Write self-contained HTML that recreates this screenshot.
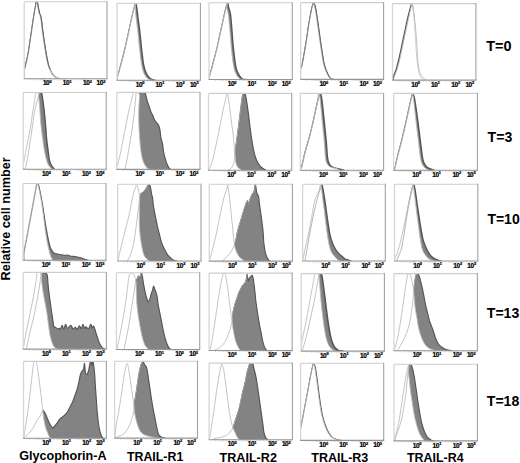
<!DOCTYPE html>
<html><head><meta charset="utf-8"><style>
html,body{margin:0;padding:0;background:#fff;}
body{width:520px;height:463px;overflow:hidden;}
svg{display:block;}
.tk{font-family:"Liberation Sans",sans-serif;font-weight:bold;font-size:6.5px;letter-spacing:-0.4px;fill:#000;stroke:#000;stroke-width:0.22px;}
.lb{font-family:"Liberation Sans",sans-serif;font-weight:bold;font-size:12.4px;fill:#000;}
.tl{font-family:"Liberation Sans",sans-serif;font-weight:bold;font-size:14px;fill:#000;}
</style></head><body>
<svg width="520" height="463" viewBox="0 0 520 463">
<rect width="520" height="463" fill="#fff"/>
<clipPath id="k11"><rect x="24.2" y="1.7" width="82.8" height="77.0"/></clipPath>
<g clip-path="url(#k11)">
<path d="M24.60,79.70 L24.60,69.00 C24.75,68.42 24.90,68.15 25.50,65.50 C26.10,62.85 27.30,58.12 28.20,53.10 C29.10,48.08 30.02,41.30 30.90,35.40 C31.78,29.50 32.73,22.60 33.50,17.70 C34.27,12.80 35.03,8.62 35.50,6.00 C35.97,3.38 35.95,2.42 36.30,2.00 C36.65,1.58 37.10,1.77 37.60,3.50 C38.10,5.23 38.72,10.03 39.30,12.40 C39.88,14.77 40.50,14.45 41.10,17.70 C41.70,20.95 42.30,27.47 42.90,31.90 C43.50,36.33 44.12,40.47 44.70,44.30 C45.28,48.13 45.82,51.65 46.40,54.90 C46.98,58.15 47.60,61.43 48.20,63.80 C48.80,66.17 49.27,67.33 50.00,69.10 C50.73,70.87 51.72,73.08 52.60,74.40 C53.48,75.72 54.40,76.37 55.30,77.00 C56.20,77.63 57.13,77.92 58.00,78.20 C58.87,78.48 60.08,78.62 60.50,78.70 L60.50,79.70 Z" fill="#838383" stroke="#555555" stroke-width="1.15" stroke-linejoin="round"/>
<path d="M24.60,79.70 L24.60,69.00 C24.75,68.42 24.90,68.15 25.50,65.50 C26.10,62.85 27.30,58.12 28.20,53.10 C29.10,48.08 30.02,41.30 30.90,35.40 C31.78,29.50 32.73,22.60 33.50,17.70 C34.27,12.80 35.03,8.62 35.50,6.00 C35.97,3.38 36.03,2.42 36.30,2.00 C36.57,1.58 36.68,1.77 37.10,3.50 C37.52,5.23 38.22,10.03 38.80,12.40 C39.38,14.77 40.00,14.45 40.60,17.70 C41.20,20.95 41.80,27.47 42.40,31.90 C43.00,36.33 43.62,40.47 44.20,44.30 C44.78,48.13 45.32,51.65 45.90,54.90 C46.48,58.15 47.10,61.43 47.70,63.80 C48.30,66.17 48.77,67.33 49.50,69.10 C50.23,70.87 51.22,73.08 52.10,74.40 C52.98,75.72 53.90,76.37 54.80,77.00 C55.70,77.63 56.63,77.92 57.50,78.20 C58.37,78.48 59.58,78.62 60.00,78.70 L60.00,79.70 Z" fill="#fff" stroke="none"/>
<path d="M24.60,69.00 C24.75,68.42 24.90,68.15 25.50,65.50 C26.10,62.85 27.30,58.12 28.20,53.10 C29.10,48.08 30.02,41.30 30.90,35.40 C31.78,29.50 32.73,22.60 33.50,17.70 C34.27,12.80 35.03,8.62 35.50,6.00 C35.97,3.38 36.03,2.42 36.30,2.00 C36.57,1.58 36.68,1.77 37.10,3.50 C37.52,5.23 38.22,10.03 38.80,12.40 C39.38,14.77 40.00,14.45 40.60,17.70 C41.20,20.95 41.80,27.47 42.40,31.90 C43.00,36.33 43.62,40.47 44.20,44.30 C44.78,48.13 45.32,51.65 45.90,54.90 C46.48,58.15 47.10,61.43 47.70,63.80 C48.30,66.17 48.77,67.33 49.50,69.10 C50.23,70.87 51.22,73.08 52.10,74.40 C52.98,75.72 53.90,76.37 54.80,77.00 C55.70,77.63 56.63,77.92 57.50,78.20 C58.37,78.48 59.58,78.62 60.00,78.70" fill="none" stroke="#bdbdbd" stroke-width="0.9" stroke-linejoin="round"/>
<path d="M24.60,69.00 C24.75,68.42 24.90,68.15 25.50,65.50 C26.10,62.85 27.30,58.12 28.20,53.10 C29.10,48.08 30.02,41.30 30.90,35.40 C31.78,29.50 32.73,22.60 33.50,17.70 C34.27,12.80 35.03,8.62 35.50,6.00 C35.97,3.38 35.95,2.42 36.30,2.00 C36.65,1.58 37.10,1.77 37.60,3.50 C38.10,5.23 38.72,10.03 39.30,12.40 C39.88,14.77 40.50,14.45 41.10,17.70 C41.70,20.95 42.30,27.47 42.90,31.90 C43.50,36.33 44.12,40.47 44.70,44.30 C45.28,48.13 45.82,51.65 46.40,54.90 C46.98,58.15 47.60,61.43 48.20,63.80 C48.80,66.17 49.70,68.22 50.00,69.10" fill="none" stroke="#666666" stroke-width="0.85" stroke-linejoin="round"/>
<path d="M49.50,69.10 C49.93,69.98 51.22,73.08 52.10,74.40 C52.98,75.72 53.90,76.37 54.80,77.00 C55.70,77.63 56.63,77.92 57.50,78.20 C58.37,78.48 59.58,78.62 60.00,78.70" fill="none" stroke="#c8c8c8" stroke-width="1.0" stroke-linejoin="round"/>
</g>
<line x1="24.2" y1="1.7" x2="24.2" y2="78.7" stroke="#d6d6d6" stroke-width="1.3"/>
<line x1="24.2" y1="1.7" x2="107.0" y2="1.7" stroke="#cdcdcd" stroke-width="1.1"/>
<line x1="107.0" y1="1.2" x2="107.0" y2="78.7" stroke="#a2a2a2" stroke-width="1.1"/>
<line x1="23.7" y1="78.7" x2="107.5" y2="78.7" stroke="#959595" stroke-width="1.1"/>
<path d="M30.4,79.2v1.1M34.1,79.2v1.1M36.7,79.2v1.1M38.7,79.2v1.1M40.3,79.2v1.1M41.7,79.2v1.1M42.9,79.2v1.1M44.0,79.2v1.1M44.9,79.2v1.6M51.1,79.2v1.1M54.8,79.2v1.1M57.4,79.2v1.1M59.4,79.2v1.1M61.0,79.2v1.1M62.4,79.2v1.1M63.6,79.2v1.1M64.7,79.2v1.1M65.6,79.2v1.6M71.8,79.2v1.1M75.5,79.2v1.1M78.1,79.2v1.1M80.1,79.2v1.1M81.7,79.2v1.1M83.1,79.2v1.1M84.3,79.2v1.1M85.4,79.2v1.1M86.3,79.2v1.6M92.5,79.2v1.1M96.2,79.2v1.1M98.8,79.2v1.1M100.8,79.2v1.1M102.4,79.2v1.1M103.8,79.2v1.1M105.0,79.2v1.1M106.1,79.2v1.1" stroke="#b0b0b0" stroke-width="0.6" fill="none"/>
<text x="42.9" y="85.3" class="tk">10<tspan dy="-2.4" dx="0.2" font-size="3.9">0</tspan></text>
<text x="62.8" y="85.3" class="tk">10<tspan dy="-2.4" dx="0.2" font-size="3.9">1</tspan></text>
<text x="83.0" y="85.3" class="tk">10<tspan dy="-2.4" dx="0.2" font-size="3.9">2</tspan></text>
<text x="96.5" y="85.3" class="tk">10<tspan dy="-2.4" dx="0.2" font-size="3.9">3</tspan></text>
<clipPath id="k12"><rect x="117.0" y="3.3" width="83.4" height="76.9"/></clipPath>
<g clip-path="url(#k12)">
<path d="M117.50,81.20 L117.50,77.00 C117.63,76.55 117.67,76.57 118.30,74.30 C118.93,72.03 120.18,67.63 121.30,63.40 C122.42,59.17 123.78,54.03 125.00,48.90 C126.22,43.77 127.40,38.03 128.60,32.60 C129.80,27.17 131.15,20.83 132.20,16.30 C133.25,11.77 134.30,7.55 134.90,5.40 C135.50,3.25 135.45,2.78 135.80,3.40 C136.15,4.02 136.63,6.65 137.00,9.10 C137.37,11.55 137.62,15.08 138.00,18.10 C138.38,21.12 138.92,24.17 139.30,27.20 C139.68,30.23 139.98,33.27 140.30,36.30 C140.62,39.33 140.88,42.38 141.20,45.40 C141.52,48.42 141.83,51.38 142.20,54.40 C142.57,57.42 142.90,60.77 143.40,63.50 C143.90,66.23 144.43,68.68 145.20,70.80 C145.97,72.92 146.93,74.77 148.00,76.20 C149.07,77.63 150.43,78.73 151.60,79.40 C152.77,80.07 154.43,80.07 155.00,80.20 L155.00,81.20 Z" fill="#838383" stroke="#555555" stroke-width="1.4" stroke-linejoin="round"/>
<path d="M117.50,81.20 L117.50,77.00 C117.63,76.55 117.67,76.57 118.30,74.30 C118.93,72.03 120.18,67.63 121.30,63.40 C122.42,59.17 123.78,54.03 125.00,48.90 C126.22,43.77 127.40,38.03 128.60,32.60 C129.80,27.17 131.15,20.83 132.20,16.30 C133.25,11.77 134.30,7.55 134.90,5.40 C135.50,3.25 135.73,2.97 135.80,3.40 C135.87,3.83 135.25,5.55 135.30,8.00 C135.35,10.45 135.77,14.90 136.10,18.10 C136.43,21.30 136.93,24.17 137.30,27.20 C137.67,30.23 137.98,33.27 138.30,36.30 C138.62,39.33 138.88,42.38 139.20,45.40 C139.52,48.42 139.83,51.38 140.20,54.40 C140.57,57.42 140.93,60.77 141.40,63.50 C141.87,66.23 142.32,68.68 143.00,70.80 C143.68,72.92 144.50,74.77 145.50,76.20 C146.50,77.63 147.75,78.73 149.00,79.40 C150.25,80.07 152.33,80.07 153.00,80.20 L153.00,81.20 Z" fill="#fff" stroke="none"/>
<path d="M117.50,77.00 C117.63,76.55 117.67,76.57 118.30,74.30 C118.93,72.03 120.18,67.63 121.30,63.40 C122.42,59.17 123.78,54.03 125.00,48.90 C126.22,43.77 127.40,38.03 128.60,32.60 C129.80,27.17 131.15,20.83 132.20,16.30 C133.25,11.77 134.30,7.55 134.90,5.40 C135.50,3.25 135.73,2.97 135.80,3.40 C135.87,3.83 135.25,5.55 135.30,8.00 C135.35,10.45 135.77,14.90 136.10,18.10 C136.43,21.30 136.93,24.17 137.30,27.20 C137.67,30.23 137.98,33.27 138.30,36.30 C138.62,39.33 138.88,42.38 139.20,45.40 C139.52,48.42 139.83,51.38 140.20,54.40 C140.57,57.42 140.93,60.77 141.40,63.50 C141.87,66.23 142.32,68.68 143.00,70.80 C143.68,72.92 144.50,74.77 145.50,76.20 C146.50,77.63 147.75,78.73 149.00,79.40 C150.25,80.07 152.33,80.07 153.00,80.20" fill="none" stroke="#bdbdbd" stroke-width="0.9" stroke-linejoin="round"/>
<path d="M117.50,77.00 C117.63,76.55 117.67,76.57 118.30,74.30 C118.93,72.03 120.18,67.63 121.30,63.40 C122.42,59.17 123.78,54.03 125.00,48.90 C126.22,43.77 127.40,38.03 128.60,32.60 C129.80,27.17 131.15,20.83 132.20,16.30 C133.25,11.77 134.30,7.55 134.90,5.40 C135.50,3.25 135.65,3.73 135.80,3.40" fill="none" stroke="#a8a8a8" stroke-width="0.85" stroke-linejoin="round"/>
</g>
<line x1="117.0" y1="3.3" x2="117.0" y2="80.2" stroke="#d6d6d6" stroke-width="1.3"/>
<line x1="117.0" y1="3.3" x2="200.4" y2="3.3" stroke="#cdcdcd" stroke-width="1.1"/>
<line x1="200.4" y1="2.8" x2="200.4" y2="80.2" stroke="#a2a2a2" stroke-width="1.1"/>
<line x1="116.5" y1="80.2" x2="200.9" y2="80.2" stroke="#959595" stroke-width="1.1"/>
<path d="M123.3,80.7v1.1M126.9,80.7v1.1M129.6,80.7v1.1M131.6,80.7v1.1M133.2,80.7v1.1M134.6,80.7v1.1M135.8,80.7v1.1M136.9,80.7v1.1M137.8,80.7v1.6M144.1,80.7v1.1M147.8,80.7v1.1M150.4,80.7v1.1M152.4,80.7v1.1M154.1,80.7v1.1M155.5,80.7v1.1M156.7,80.7v1.1M157.7,80.7v1.1M158.7,80.7v1.6M165.0,80.7v1.1M168.6,80.7v1.1M171.3,80.7v1.1M173.3,80.7v1.1M174.9,80.7v1.1M176.3,80.7v1.1M177.5,80.7v1.1M178.6,80.7v1.1M179.6,80.7v1.6M185.8,80.7v1.1M189.5,80.7v1.1M192.1,80.7v1.1M194.1,80.7v1.1M195.8,80.7v1.1M197.2,80.7v1.1M198.4,80.7v1.1M199.4,80.7v1.1" stroke="#b0b0b0" stroke-width="0.6" fill="none"/>
<text x="135.7" y="86.8" class="tk">10<tspan dy="-2.4" dx="0.2" font-size="3.9">0</tspan></text>
<text x="155.6" y="86.8" class="tk">10<tspan dy="-2.4" dx="0.2" font-size="3.9">1</tspan></text>
<text x="175.8" y="86.8" class="tk">10<tspan dy="-2.4" dx="0.2" font-size="3.9">2</tspan></text>
<text x="189.9" y="86.8" class="tk">10<tspan dy="-2.4" dx="0.2" font-size="3.9">3</tspan></text>
<clipPath id="k13"><rect x="209.0" y="2.7" width="83.3" height="76.8"/></clipPath>
<g clip-path="url(#k13)">
<path d="M209.50,80.50 L209.50,76.40 C209.63,75.95 209.67,75.97 210.30,73.70 C210.93,71.43 212.18,67.03 213.30,62.80 C214.42,58.57 215.78,53.43 217.00,48.30 C218.22,43.17 219.40,37.43 220.60,32.00 C221.80,26.57 223.15,20.23 224.20,15.70 C225.25,11.17 226.30,6.95 226.90,4.80 C227.50,2.65 227.52,2.38 227.80,2.80 C228.08,3.22 228.15,5.35 228.60,7.30 C229.05,9.25 229.98,11.18 230.50,14.50 C231.02,17.82 231.32,22.67 231.70,27.20 C232.08,31.73 232.40,37.17 232.80,41.70 C233.20,46.23 233.58,50.15 234.10,54.40 C234.62,58.65 235.15,63.87 235.90,67.20 C236.65,70.53 237.53,72.43 238.60,74.40 C239.67,76.37 241.07,78.15 242.30,79.00 C243.53,79.85 245.38,79.42 246.00,79.50 L246.00,80.50 Z" fill="#838383" stroke="#555555" stroke-width="1.4" stroke-linejoin="round"/>
<path d="M209.50,80.50 L209.50,76.40 C209.63,75.95 209.67,75.97 210.30,73.70 C210.93,71.43 212.18,67.03 213.30,62.80 C214.42,58.57 215.78,53.43 217.00,48.30 C218.22,43.17 219.40,37.43 220.60,32.00 C221.80,26.57 223.15,20.23 224.20,15.70 C225.25,11.17 226.30,6.95 226.90,4.80 C227.50,2.65 227.82,2.60 227.80,2.80 C227.78,3.00 226.93,4.97 226.80,6.00 C226.67,7.03 226.75,7.58 227.00,9.00 C227.25,10.42 227.87,11.47 228.30,14.50 C228.73,17.53 229.18,22.67 229.60,27.20 C230.02,31.73 230.40,37.17 230.80,41.70 C231.20,46.23 231.50,50.15 232.00,54.40 C232.50,58.65 233.08,63.87 233.80,67.20 C234.52,70.53 235.27,72.43 236.30,74.40 C237.33,76.37 238.72,78.15 240.00,79.00 C241.28,79.85 243.33,79.42 244.00,79.50 L244.00,80.50 Z" fill="#fff" stroke="none"/>
<path d="M209.50,76.40 C209.63,75.95 209.67,75.97 210.30,73.70 C210.93,71.43 212.18,67.03 213.30,62.80 C214.42,58.57 215.78,53.43 217.00,48.30 C218.22,43.17 219.40,37.43 220.60,32.00 C221.80,26.57 223.15,20.23 224.20,15.70 C225.25,11.17 226.30,6.95 226.90,4.80 C227.50,2.65 227.82,2.60 227.80,2.80 C227.78,3.00 226.93,4.97 226.80,6.00 C226.67,7.03 226.75,7.58 227.00,9.00 C227.25,10.42 227.87,11.47 228.30,14.50 C228.73,17.53 229.18,22.67 229.60,27.20 C230.02,31.73 230.40,37.17 230.80,41.70 C231.20,46.23 231.50,50.15 232.00,54.40 C232.50,58.65 233.08,63.87 233.80,67.20 C234.52,70.53 235.27,72.43 236.30,74.40 C237.33,76.37 238.72,78.15 240.00,79.00 C241.28,79.85 243.33,79.42 244.00,79.50" fill="none" stroke="#bdbdbd" stroke-width="0.9" stroke-linejoin="round"/>
<path d="M209.50,76.40 C209.63,75.95 209.67,75.97 210.30,73.70 C210.93,71.43 212.18,67.03 213.30,62.80 C214.42,58.57 215.78,53.43 217.00,48.30 C218.22,43.17 219.40,37.43 220.60,32.00 C221.80,26.57 223.15,20.23 224.20,15.70 C225.25,11.17 226.30,6.95 226.90,4.80 C227.50,2.65 227.65,3.13 227.80,2.80" fill="none" stroke="#a8a8a8" stroke-width="0.85" stroke-linejoin="round"/>
</g>
<line x1="209.0" y1="2.7" x2="209.0" y2="79.5" stroke="#d6d6d6" stroke-width="1.3"/>
<line x1="209.0" y1="2.7" x2="292.3" y2="2.7" stroke="#cdcdcd" stroke-width="1.1"/>
<line x1="292.3" y1="2.2" x2="292.3" y2="79.5" stroke="#a2a2a2" stroke-width="1.1"/>
<line x1="208.5" y1="79.5" x2="292.8" y2="79.5" stroke="#959595" stroke-width="1.1"/>
<path d="M215.3,80.0v1.1M218.9,80.0v1.1M221.5,80.0v1.1M223.6,80.0v1.1M225.2,80.0v1.1M226.6,80.0v1.1M227.8,80.0v1.1M228.9,80.0v1.1M229.8,80.0v1.6M236.1,80.0v1.1M239.8,80.0v1.1M242.4,80.0v1.1M244.4,80.0v1.1M246.0,80.0v1.1M247.4,80.0v1.1M248.6,80.0v1.1M249.7,80.0v1.1M250.7,80.0v1.6M256.9,80.0v1.1M260.6,80.0v1.1M263.2,80.0v1.1M265.2,80.0v1.1M266.9,80.0v1.1M268.2,80.0v1.1M269.5,80.0v1.1M270.5,80.0v1.1M271.5,80.0v1.6M277.7,80.0v1.1M281.4,80.0v1.1M284.0,80.0v1.1M286.0,80.0v1.1M287.7,80.0v1.1M289.1,80.0v1.1M290.3,80.0v1.1M291.3,80.0v1.1" stroke="#b0b0b0" stroke-width="0.6" fill="none"/>
<text x="227.7" y="86.1" class="tk">10<tspan dy="-2.4" dx="0.2" font-size="3.9">0</tspan></text>
<text x="247.6" y="86.1" class="tk">10<tspan dy="-2.4" dx="0.2" font-size="3.9">1</tspan></text>
<text x="267.8" y="86.1" class="tk">10<tspan dy="-2.4" dx="0.2" font-size="3.9">2</tspan></text>
<text x="281.8" y="86.1" class="tk">10<tspan dy="-2.4" dx="0.2" font-size="3.9">3</tspan></text>
<clipPath id="k14"><rect x="300.7" y="2.6" width="82.9" height="76.8"/></clipPath>
<g clip-path="url(#k14)">
<path d="M301.00,80.40 L301.00,68.00 C301.10,67.83 301.20,68.67 301.60,67.00 C302.00,65.33 302.63,62.22 303.40,58.00 C304.17,53.78 305.28,47.43 306.20,41.70 C307.12,35.97 308.00,29.03 308.90,23.60 C309.80,18.17 310.95,12.28 311.60,9.10 C312.25,5.92 312.50,5.60 312.80,4.50 C313.10,3.40 313.10,2.50 313.40,2.50 C313.70,2.50 314.30,3.85 314.60,4.50 C314.90,5.15 314.85,4.73 315.20,6.40 C315.55,8.07 316.15,11.03 316.70,14.50 C317.25,17.97 317.90,22.97 318.50,27.20 C319.10,31.43 319.68,35.68 320.30,39.90 C320.92,44.12 321.58,48.58 322.20,52.50 C322.82,56.42 323.25,60.22 324.00,63.40 C324.75,66.58 325.80,69.33 326.70,71.60 C327.60,73.87 328.65,75.80 329.40,77.00 C330.15,78.20 330.50,78.40 331.20,78.80 C331.90,79.20 333.20,79.30 333.60,79.40 L333.60,80.40 Z" fill="#838383" stroke="#555555" stroke-width="1.15" stroke-linejoin="round"/>
<path d="M301.00,80.40 L301.00,68.00 C301.10,67.83 301.20,68.67 301.60,67.00 C302.00,65.33 302.63,62.22 303.40,58.00 C304.17,53.78 305.28,47.43 306.20,41.70 C307.12,35.97 308.00,29.03 308.90,23.60 C309.80,18.17 310.95,12.28 311.60,9.10 C312.25,5.92 312.50,5.60 312.80,4.50 C313.10,3.40 313.20,2.50 313.40,2.50 C313.60,2.50 313.80,3.85 314.00,4.50 C314.20,5.15 314.25,4.73 314.60,6.40 C314.95,8.07 315.55,11.03 316.10,14.50 C316.65,17.97 317.30,22.97 317.90,27.20 C318.50,31.43 319.08,35.68 319.70,39.90 C320.32,44.12 320.98,48.58 321.60,52.50 C322.22,56.42 322.65,60.22 323.40,63.40 C324.15,66.58 325.20,69.33 326.10,71.60 C327.00,73.87 328.05,75.80 328.80,77.00 C329.55,78.20 329.90,78.40 330.60,78.80 C331.30,79.20 332.60,79.30 333.00,79.40 L333.00,80.40 Z" fill="#fff" stroke="none"/>
<path d="M301.00,68.00 C301.10,67.83 301.20,68.67 301.60,67.00 C302.00,65.33 302.63,62.22 303.40,58.00 C304.17,53.78 305.28,47.43 306.20,41.70 C307.12,35.97 308.00,29.03 308.90,23.60 C309.80,18.17 310.95,12.28 311.60,9.10 C312.25,5.92 312.50,5.60 312.80,4.50 C313.10,3.40 313.20,2.50 313.40,2.50 C313.60,2.50 313.80,3.85 314.00,4.50 C314.20,5.15 314.25,4.73 314.60,6.40 C314.95,8.07 315.55,11.03 316.10,14.50 C316.65,17.97 317.30,22.97 317.90,27.20 C318.50,31.43 319.08,35.68 319.70,39.90 C320.32,44.12 320.98,48.58 321.60,52.50 C322.22,56.42 322.65,60.22 323.40,63.40 C324.15,66.58 325.20,69.33 326.10,71.60 C327.00,73.87 328.05,75.80 328.80,77.00 C329.55,78.20 329.90,78.40 330.60,78.80 C331.30,79.20 332.60,79.30 333.00,79.40" fill="none" stroke="#bdbdbd" stroke-width="0.9" stroke-linejoin="round"/>
<path d="M301.00,68.00 C301.10,67.83 301.20,68.67 301.60,67.00 C302.00,65.33 302.63,62.22 303.40,58.00 C304.17,53.78 305.28,47.43 306.20,41.70 C307.12,35.97 308.00,29.03 308.90,23.60 C309.80,18.17 310.95,12.28 311.60,9.10 C312.25,5.92 312.50,5.60 312.80,4.50 C313.10,3.40 313.10,2.50 313.40,2.50 C313.70,2.50 314.30,3.85 314.60,4.50 C314.90,5.15 314.85,4.73 315.20,6.40 C315.55,8.07 316.15,11.03 316.70,14.50 C317.25,17.97 317.90,22.97 318.50,27.20 C319.10,31.43 319.68,35.68 320.30,39.90 C320.92,44.12 321.58,48.58 322.20,52.50 C322.82,56.42 323.25,60.22 324.00,63.40 C324.75,66.58 325.80,69.33 326.70,71.60 C327.60,73.87 328.95,76.10 329.40,77.00" fill="none" stroke="#707070" stroke-width="0.85" stroke-linejoin="round"/>
</g>
<line x1="300.7" y1="2.6" x2="300.7" y2="79.4" stroke="#d6d6d6" stroke-width="1.3"/>
<line x1="300.7" y1="2.6" x2="383.6" y2="2.6" stroke="#cdcdcd" stroke-width="1.1"/>
<line x1="383.6" y1="2.1" x2="383.6" y2="79.4" stroke="#a2a2a2" stroke-width="1.1"/>
<line x1="300.2" y1="79.4" x2="384.1" y2="79.4" stroke="#959595" stroke-width="1.1"/>
<path d="M306.9,79.9v1.1M310.6,79.9v1.1M313.2,79.9v1.1M315.2,79.9v1.1M316.8,79.9v1.1M318.2,79.9v1.1M319.4,79.9v1.1M320.5,79.9v1.1M321.4,79.9v1.6M327.7,79.9v1.1M331.3,79.9v1.1M333.9,79.9v1.1M335.9,79.9v1.1M337.6,79.9v1.1M338.9,79.9v1.1M340.1,79.9v1.1M341.2,79.9v1.1M342.1,79.9v1.6M348.4,79.9v1.1M352.0,79.9v1.1M354.6,79.9v1.1M356.6,79.9v1.1M358.3,79.9v1.1M359.7,79.9v1.1M360.9,79.9v1.1M361.9,79.9v1.1M362.9,79.9v1.6M369.1,79.9v1.1M372.8,79.9v1.1M375.4,79.9v1.1M377.4,79.9v1.1M379.0,79.9v1.1M380.4,79.9v1.1M381.6,79.9v1.1M382.7,79.9v1.1" stroke="#b0b0b0" stroke-width="0.6" fill="none"/>
<text x="319.4" y="86.0" class="tk">10<tspan dy="-2.4" dx="0.2" font-size="3.9">0</tspan></text>
<text x="339.3" y="86.0" class="tk">10<tspan dy="-2.4" dx="0.2" font-size="3.9">1</tspan></text>
<text x="359.5" y="86.0" class="tk">10<tspan dy="-2.4" dx="0.2" font-size="3.9">2</tspan></text>
<text x="373.1" y="86.0" class="tk">10<tspan dy="-2.4" dx="0.2" font-size="3.9">3</tspan></text>
<clipPath id="k15"><rect x="392.5" y="3.6" width="83.4" height="76.5"/></clipPath>
<g clip-path="url(#k15)">
<path d="M393.00,81.10 L393.00,78.00 C393.10,77.68 393.05,77.63 393.60,76.10 C394.15,74.57 395.38,71.82 396.30,68.80 C397.22,65.78 398.18,61.92 399.10,58.00 C400.02,54.08 400.90,49.53 401.80,45.30 C402.70,41.07 403.60,36.83 404.50,32.60 C405.40,28.37 406.30,23.82 407.20,19.90 C408.10,15.98 409.15,11.82 409.90,9.10 C410.65,6.38 411.25,4.12 411.70,3.60 C412.15,3.08 412.22,3.60 412.60,6.00 C412.98,8.40 413.55,13.33 414.00,18.00 C414.45,22.67 414.93,28.67 415.30,34.00 C415.67,39.33 415.88,45.33 416.20,50.00 C416.52,54.67 416.80,58.50 417.20,62.00 C417.60,65.50 418.05,68.58 418.60,71.00 C419.15,73.42 419.77,75.07 420.50,76.50 C421.23,77.93 422.25,79.00 423.00,79.60 C423.75,80.20 424.67,80.02 425.00,80.10 L425.00,81.10 Z" fill="#838383" stroke="#555555" stroke-width="1.15" stroke-linejoin="round"/>
<path d="M394.00,81.10 L394.00,78.00 C394.10,77.68 394.05,77.63 394.60,76.10 C395.15,74.57 396.38,71.82 397.30,68.80 C398.22,65.78 399.18,61.92 400.10,58.00 C401.02,54.08 401.90,49.53 402.80,45.30 C403.70,41.07 404.60,36.83 405.50,32.60 C406.40,28.37 407.33,23.82 408.20,19.90 C409.07,15.98 410.03,11.82 410.70,9.10 C411.37,6.38 411.85,4.22 412.20,3.60 C412.55,2.98 412.42,2.98 412.80,5.40 C413.18,7.82 413.92,12.97 414.50,18.10 C415.08,23.23 415.85,30.77 416.30,36.20 C416.75,41.63 416.90,46.17 417.20,50.70 C417.50,55.23 417.65,59.77 418.10,63.40 C418.55,67.03 419.15,70.23 419.90,72.50 C420.65,74.77 421.85,75.95 422.60,77.00 C423.35,78.05 423.75,78.28 424.40,78.80 C425.05,79.32 426.15,79.88 426.50,80.10 L426.50,81.10 Z" fill="#fff" stroke="none"/>
<path d="M394.00,78.00 C394.10,77.68 394.05,77.63 394.60,76.10 C395.15,74.57 396.38,71.82 397.30,68.80 C398.22,65.78 399.18,61.92 400.10,58.00 C401.02,54.08 401.90,49.53 402.80,45.30 C403.70,41.07 404.60,36.83 405.50,32.60 C406.40,28.37 407.33,23.82 408.20,19.90 C409.07,15.98 410.03,11.82 410.70,9.10 C411.37,6.38 411.85,4.22 412.20,3.60 C412.55,2.98 412.42,2.98 412.80,5.40 C413.18,7.82 413.92,12.97 414.50,18.10 C415.08,23.23 415.85,30.77 416.30,36.20 C416.75,41.63 416.90,46.17 417.20,50.70 C417.50,55.23 417.65,59.77 418.10,63.40 C418.55,67.03 419.15,70.23 419.90,72.50 C420.65,74.77 421.85,75.95 422.60,77.00 C423.35,78.05 423.75,78.28 424.40,78.80 C425.05,79.32 426.15,79.88 426.50,80.10" fill="none" stroke="#bdbdbd" stroke-width="0.9" stroke-linejoin="round"/>
<path d="M411.70,3.60 C411.85,4.00 412.22,3.60 412.60,6.00 C412.98,8.40 413.55,13.33 414.00,18.00 C414.45,22.67 414.93,28.67 415.30,34.00 C415.67,39.33 415.88,45.33 416.20,50.00 C416.52,54.67 416.80,58.50 417.20,62.00 C417.60,65.50 418.05,68.58 418.60,71.00 C419.15,73.42 419.77,75.07 420.50,76.50 C421.23,77.93 422.25,79.00 423.00,79.60 C423.75,80.20 424.67,80.02 425.00,80.10" fill="none" stroke="#c4c4c4" stroke-width="0.8" stroke-linejoin="round"/>
</g>
<line x1="392.5" y1="3.6" x2="392.5" y2="80.1" stroke="#d6d6d6" stroke-width="1.3"/>
<line x1="392.5" y1="3.6" x2="475.9" y2="3.6" stroke="#cdcdcd" stroke-width="1.1"/>
<line x1="475.9" y1="3.1" x2="475.9" y2="80.1" stroke="#a2a2a2" stroke-width="1.1"/>
<line x1="392.0" y1="80.1" x2="476.4" y2="80.1" stroke="#959595" stroke-width="1.1"/>
<path d="M398.8,80.6v1.1M402.4,80.6v1.1M405.1,80.6v1.1M407.1,80.6v1.1M408.7,80.6v1.1M410.1,80.6v1.1M411.3,80.6v1.1M412.4,80.6v1.1M413.4,80.6v1.6M419.6,80.6v1.1M423.3,80.6v1.1M425.9,80.6v1.1M427.9,80.6v1.1M429.6,80.6v1.1M431.0,80.6v1.1M432.2,80.6v1.1M433.2,80.6v1.1M434.2,80.6v1.6M440.5,80.6v1.1M444.1,80.6v1.1M446.8,80.6v1.1M448.8,80.6v1.1M450.4,80.6v1.1M451.8,80.6v1.1M453.0,80.6v1.1M454.1,80.6v1.1M455.0,80.6v1.6M461.3,80.6v1.1M465.0,80.6v1.1M467.6,80.6v1.1M469.6,80.6v1.1M471.3,80.6v1.1M472.7,80.6v1.1M473.9,80.6v1.1M474.9,80.6v1.1" stroke="#b0b0b0" stroke-width="0.6" fill="none"/>
<text x="411.2" y="86.7" class="tk">10<tspan dy="-2.4" dx="0.2" font-size="3.9">0</tspan></text>
<text x="431.1" y="86.7" class="tk">10<tspan dy="-2.4" dx="0.2" font-size="3.9">1</tspan></text>
<text x="451.3" y="86.7" class="tk">10<tspan dy="-2.4" dx="0.2" font-size="3.9">2</tspan></text>
<text x="465.4" y="86.7" class="tk">10<tspan dy="-2.4" dx="0.2" font-size="3.9">3</tspan></text>
<clipPath id="k21"><rect x="23.3" y="92.5" width="82.9" height="76.8"/></clipPath>
<g clip-path="url(#k21)">
<path d="M25.00,170.30 L25.00,169.30 C25.23,168.45 25.70,167.77 26.40,164.20 C27.10,160.63 28.28,153.65 29.20,147.90 C30.12,142.15 31.00,135.75 31.90,129.70 C32.80,123.65 33.70,116.43 34.60,111.60 C35.50,106.77 36.55,103.42 37.30,100.70 C38.05,97.98 38.65,96.67 39.10,95.30 C39.55,93.93 39.60,92.97 40.00,92.50 C40.40,92.03 40.90,90.23 41.50,92.50 C42.10,94.77 42.93,100.80 43.60,106.10 C44.27,111.40 45.00,118.85 45.50,124.30 C46.00,129.75 46.15,134.27 46.60,138.80 C47.05,143.33 47.72,147.87 48.20,151.50 C48.68,155.13 48.95,158.27 49.50,160.60 C50.05,162.93 50.67,164.05 51.50,165.50 C52.33,166.95 54.00,168.67 54.50,169.30 L54.50,170.30 Z" fill="#838383" stroke="#555555" stroke-width="1.4" stroke-linejoin="round"/>
<path d="M23.30,170.30 L23.30,165.00 C23.82,162.15 25.27,153.78 26.40,147.90 C27.53,142.02 29.03,135.75 30.10,129.70 C31.17,123.65 32.05,116.43 32.80,111.60 C33.55,106.77 34.07,103.88 34.60,100.70 C35.13,97.52 35.43,93.87 36.00,92.50 C36.57,91.13 37.55,91.73 38.00,92.50 C38.45,93.27 38.43,94.83 38.70,97.10 C38.97,99.37 39.23,101.57 39.60,106.10 C39.97,110.63 40.38,118.85 40.90,124.30 C41.42,129.75 42.08,134.27 42.70,138.80 C43.32,143.33 43.92,147.80 44.60,151.50 C45.28,155.20 46.07,158.58 46.80,161.00 C47.53,163.42 48.13,164.62 49.00,166.00 C49.87,167.38 51.50,168.75 52.00,169.30 L52.00,170.30 Z" fill="#fff" stroke="none"/>
<path d="M23.30,165.00 C23.82,162.15 25.27,153.78 26.40,147.90 C27.53,142.02 29.03,135.75 30.10,129.70 C31.17,123.65 32.05,116.43 32.80,111.60 C33.55,106.77 34.07,103.88 34.60,100.70 C35.13,97.52 35.43,93.87 36.00,92.50 C36.57,91.13 37.55,91.73 38.00,92.50 C38.45,93.27 38.43,94.83 38.70,97.10 C38.97,99.37 39.23,101.57 39.60,106.10 C39.97,110.63 40.38,118.85 40.90,124.30 C41.42,129.75 42.08,134.27 42.70,138.80 C43.32,143.33 43.92,147.80 44.60,151.50 C45.28,155.20 46.07,158.58 46.80,161.00 C47.53,163.42 48.13,164.62 49.00,166.00 C49.87,167.38 51.50,168.75 52.00,169.30" fill="none" stroke="#bdbdbd" stroke-width="0.9" stroke-linejoin="round"/>
<path d="M25.00,169.30 C25.23,168.45 25.70,167.77 26.40,164.20 C27.10,160.63 28.28,153.65 29.20,147.90 C30.12,142.15 31.00,135.75 31.90,129.70 C32.80,123.65 33.70,116.43 34.60,111.60 C35.50,106.77 36.55,103.42 37.30,100.70 C38.05,97.98 38.65,96.67 39.10,95.30 C39.55,93.93 39.85,92.97 40.00,92.50" fill="none" stroke="#b8b8b8" stroke-width="0.85" stroke-linejoin="round"/>
</g>
<line x1="23.3" y1="92.5" x2="23.3" y2="169.3" stroke="#d6d6d6" stroke-width="1.3"/>
<line x1="23.3" y1="92.5" x2="106.2" y2="92.5" stroke="#cdcdcd" stroke-width="1.1"/>
<line x1="106.2" y1="92.0" x2="106.2" y2="169.3" stroke="#a2a2a2" stroke-width="1.1"/>
<line x1="22.8" y1="169.3" x2="106.7" y2="169.3" stroke="#959595" stroke-width="1.1"/>
<path d="M29.5,169.8v1.1M33.2,169.8v1.1M35.8,169.8v1.1M37.8,169.8v1.1M39.4,169.8v1.1M40.8,169.8v1.1M42.0,169.8v1.1M43.1,169.8v1.1M44.0,169.8v1.6M50.3,169.8v1.1M53.9,169.8v1.1M56.5,169.8v1.1M58.5,169.8v1.1M60.2,169.8v1.1M61.5,169.8v1.1M62.7,169.8v1.1M63.8,169.8v1.1M64.8,169.8v1.6M71.0,169.8v1.1M74.6,169.8v1.1M77.2,169.8v1.1M79.2,169.8v1.1M80.9,169.8v1.1M82.3,169.8v1.1M83.5,169.8v1.1M84.5,169.8v1.1M85.5,169.8v1.6M91.7,169.8v1.1M95.4,169.8v1.1M98.0,169.8v1.1M100.0,169.8v1.1M101.6,169.8v1.1M103.0,169.8v1.1M104.2,169.8v1.1M105.3,169.8v1.1" stroke="#b0b0b0" stroke-width="0.6" fill="none"/>
<text x="42.0" y="175.9" class="tk">10<tspan dy="-2.4" dx="0.2" font-size="3.9">0</tspan></text>
<text x="61.9" y="175.9" class="tk">10<tspan dy="-2.4" dx="0.2" font-size="3.9">1</tspan></text>
<text x="82.1" y="175.9" class="tk">10<tspan dy="-2.4" dx="0.2" font-size="3.9">2</tspan></text>
<text x="95.7" y="175.9" class="tk">10<tspan dy="-2.4" dx="0.2" font-size="3.9">3</tspan></text>
<clipPath id="k22"><rect x="116.8" y="92.4" width="83.2" height="77.0"/></clipPath>
<g clip-path="url(#k22)">
<path d="M125.00,170.40 L125.00,169.40 C125.33,167.83 126.25,164.07 127.00,160.00 C127.75,155.93 128.67,150.00 129.50,145.00 C130.33,140.00 131.25,135.00 132.00,130.00 C132.75,125.00 133.42,120.00 134.00,115.00 C134.58,110.00 135.08,103.77 135.50,100.00 C135.92,96.23 135.60,93.73 136.50,92.40 C137.40,91.07 139.93,92.10 140.90,92.00 C141.87,91.90 141.70,91.83 142.30,91.80 C142.90,91.77 143.90,91.22 144.50,91.80 C145.10,92.38 145.45,93.77 145.90,95.30 C146.35,96.83 146.68,99.22 147.20,101.00 C147.72,102.78 148.40,104.27 149.00,106.00 C149.60,107.73 150.20,109.88 150.80,111.40 C151.40,112.92 151.98,113.70 152.60,115.10 C153.22,116.50 153.88,118.57 154.50,119.80 C155.12,121.03 155.70,121.75 156.30,122.50 C156.90,123.25 157.50,123.10 158.10,124.30 C158.70,125.50 159.45,127.58 159.90,129.70 C160.35,131.82 160.35,134.57 160.80,137.00 C161.25,139.43 162.15,141.88 162.60,144.30 C163.05,146.72 163.05,149.08 163.50,151.50 C163.95,153.92 164.70,156.68 165.30,158.80 C165.90,160.92 166.50,162.68 167.10,164.20 C167.70,165.72 168.25,167.03 168.90,167.90 C169.55,168.77 170.65,169.15 171.00,169.40 L171.00,170.40 Z" fill="#838383" stroke="#555555" stroke-width="1.15" stroke-linejoin="round"/>
<path d="M117.50,170.40 L117.50,166.00 C117.92,164.17 119.08,159.33 120.00,155.00 C120.92,150.67 122.00,145.00 123.00,140.00 C124.00,135.00 125.00,130.00 126.00,125.00 C127.00,120.00 128.00,114.50 129.00,110.00 C130.00,105.50 131.17,100.93 132.00,98.00 C132.83,95.07 133.08,93.33 134.00,92.40 C134.92,91.47 136.58,91.97 137.50,92.40 C138.42,92.83 139.23,93.32 139.50,95.00 C139.77,96.68 139.23,99.13 139.10,102.50 C138.97,105.87 138.70,110.67 138.70,115.20 C138.70,119.73 138.88,125.17 139.10,129.70 C139.32,134.23 139.65,138.47 140.00,142.40 C140.35,146.33 140.60,149.97 141.20,153.30 C141.80,156.63 142.60,159.97 143.60,162.40 C144.60,164.83 146.13,166.73 147.20,167.90 C148.27,169.07 149.53,169.15 150.00,169.40 L150.00,170.40 Z" fill="#fff" stroke="none"/>
<path d="M117.50,166.00 C117.92,164.17 119.08,159.33 120.00,155.00 C120.92,150.67 122.00,145.00 123.00,140.00 C124.00,135.00 125.00,130.00 126.00,125.00 C127.00,120.00 128.00,114.50 129.00,110.00 C130.00,105.50 131.17,100.93 132.00,98.00 C132.83,95.07 133.08,93.33 134.00,92.40 C134.92,91.47 136.58,91.97 137.50,92.40 C138.42,92.83 139.23,93.32 139.50,95.00 C139.77,96.68 139.23,99.13 139.10,102.50 C138.97,105.87 138.70,110.67 138.70,115.20 C138.70,119.73 138.88,125.17 139.10,129.70 C139.32,134.23 139.65,138.47 140.00,142.40 C140.35,146.33 140.60,149.97 141.20,153.30 C141.80,156.63 142.60,159.97 143.60,162.40 C144.60,164.83 146.13,166.73 147.20,167.90 C148.27,169.07 149.53,169.15 150.00,169.40" fill="none" stroke="#bdbdbd" stroke-width="0.9" stroke-linejoin="round"/>
<path d="M125.00,169.40 C125.33,167.83 126.25,164.07 127.00,160.00 C127.75,155.93 128.67,150.00 129.50,145.00 C130.33,140.00 131.25,135.00 132.00,130.00 C132.75,125.00 133.42,120.00 134.00,115.00 C134.58,110.00 135.08,103.77 135.50,100.00 C135.92,96.23 135.60,93.73 136.50,92.40 C137.40,91.07 139.93,92.10 140.90,92.00 C141.87,91.90 142.07,91.83 142.30,91.80" fill="none" stroke="#b8b8b8" stroke-width="0.85" stroke-linejoin="round"/>
</g>
<line x1="116.8" y1="92.4" x2="116.8" y2="169.4" stroke="#d6d6d6" stroke-width="1.3"/>
<line x1="116.8" y1="92.4" x2="200.0" y2="92.4" stroke="#cdcdcd" stroke-width="1.1"/>
<line x1="200.0" y1="91.9" x2="200.0" y2="169.4" stroke="#a2a2a2" stroke-width="1.1"/>
<line x1="116.3" y1="169.4" x2="200.5" y2="169.4" stroke="#959595" stroke-width="1.1"/>
<path d="M123.1,169.9v1.1M126.7,169.9v1.1M129.3,169.9v1.1M131.3,169.9v1.1M133.0,169.9v1.1M134.4,169.9v1.1M135.6,169.9v1.1M136.6,169.9v1.1M137.6,169.9v1.6M143.9,169.9v1.1M147.5,169.9v1.1M150.1,169.9v1.1M152.1,169.9v1.1M153.8,169.9v1.1M155.2,169.9v1.1M156.4,169.9v1.1M157.4,169.9v1.1M158.4,169.9v1.6M164.7,169.9v1.1M168.3,169.9v1.1M170.9,169.9v1.1M172.9,169.9v1.1M174.6,169.9v1.1M176.0,169.9v1.1M177.2,169.9v1.1M178.2,169.9v1.1M179.2,169.9v1.6M185.5,169.9v1.1M189.1,169.9v1.1M191.7,169.9v1.1M193.7,169.9v1.1M195.4,169.9v1.1M196.8,169.9v1.1M198.0,169.9v1.1M199.0,169.9v1.1" stroke="#b0b0b0" stroke-width="0.6" fill="none"/>
<text x="135.5" y="176.0" class="tk">10<tspan dy="-2.4" dx="0.2" font-size="3.9">0</tspan></text>
<text x="155.4" y="176.0" class="tk">10<tspan dy="-2.4" dx="0.2" font-size="3.9">1</tspan></text>
<text x="175.6" y="176.0" class="tk">10<tspan dy="-2.4" dx="0.2" font-size="3.9">2</tspan></text>
<text x="189.5" y="176.0" class="tk">10<tspan dy="-2.4" dx="0.2" font-size="3.9">3</tspan></text>
<clipPath id="k23"><rect x="208.5" y="93.4" width="83.2" height="76.8"/></clipPath>
<g clip-path="url(#k23)">
<path d="M228.00,171.20 L228.00,170.20 C228.50,169.92 230.08,169.53 231.00,168.50 C231.92,167.47 232.93,165.45 233.50,164.00 C234.07,162.55 234.10,162.03 234.40,159.80 C234.70,157.57 234.85,154.28 235.30,150.60 C235.75,146.92 236.48,142.30 237.10,137.70 C237.72,133.10 238.38,127.88 239.00,123.00 C239.62,118.12 240.30,112.40 240.80,108.40 C241.30,104.40 241.67,101.30 242.00,99.00 C242.33,96.70 242.50,95.53 242.80,94.60 C243.10,93.67 243.47,93.57 243.80,93.40 C244.13,93.23 244.50,93.25 244.80,93.60 C245.10,93.95 245.35,94.57 245.60,95.50 C245.85,96.43 245.87,96.45 246.30,99.20 C246.73,101.95 247.58,107.42 248.20,112.00 C248.82,116.58 249.40,122.10 250.00,126.70 C250.60,131.30 251.18,135.62 251.80,139.60 C252.42,143.58 252.93,147.23 253.70,150.60 C254.47,153.97 255.33,157.20 256.40,159.80 C257.47,162.40 258.87,164.67 260.10,166.20 C261.33,167.73 262.82,168.33 263.80,169.00 C264.78,169.67 265.63,170.00 266.00,170.20 L266.00,171.20 Z" fill="#838383" stroke="#555555" stroke-width="1.15" stroke-linejoin="round"/>
<path d="M209.00,171.20 L209.00,170.00 C209.25,169.37 209.78,168.22 210.50,166.20 C211.22,164.18 212.38,161.42 213.30,157.90 C214.22,154.38 215.08,149.38 216.00,145.10 C216.92,140.82 217.88,136.80 218.80,132.20 C219.72,127.60 220.58,122.08 221.50,117.50 C222.42,112.92 223.43,108.52 224.30,104.70 C225.17,100.88 226.18,96.48 226.70,94.60 C227.22,92.72 227.18,93.25 227.40,93.40 C227.62,93.55 227.60,93.00 228.00,95.50 C228.40,98.00 229.20,103.82 229.80,108.40 C230.40,112.98 230.98,118.12 231.60,123.00 C232.22,127.88 233.03,133.42 233.50,137.70 C233.97,141.98 234.10,145.33 234.40,148.70 C234.70,152.07 235.03,155.45 235.30,157.90 C235.57,160.35 235.63,161.87 236.00,163.40 C236.37,164.93 236.85,166.17 237.50,167.10 C238.15,168.03 239.15,168.48 239.90,169.00 C240.65,169.52 241.65,170.00 242.00,170.20 L242.00,171.20 Z" fill="#fff" stroke="none"/>
<path d="M209.00,170.00 C209.25,169.37 209.78,168.22 210.50,166.20 C211.22,164.18 212.38,161.42 213.30,157.90 C214.22,154.38 215.08,149.38 216.00,145.10 C216.92,140.82 217.88,136.80 218.80,132.20 C219.72,127.60 220.58,122.08 221.50,117.50 C222.42,112.92 223.43,108.52 224.30,104.70 C225.17,100.88 226.18,96.48 226.70,94.60 C227.22,92.72 227.18,93.25 227.40,93.40 C227.62,93.55 227.60,93.00 228.00,95.50 C228.40,98.00 229.20,103.82 229.80,108.40 C230.40,112.98 230.98,118.12 231.60,123.00 C232.22,127.88 233.03,133.42 233.50,137.70 C233.97,141.98 234.10,145.33 234.40,148.70 C234.70,152.07 235.03,155.45 235.30,157.90 C235.57,160.35 235.63,161.87 236.00,163.40 C236.37,164.93 236.85,166.17 237.50,167.10 C238.15,168.03 239.15,168.48 239.90,169.00 C240.65,169.52 241.65,170.00 242.00,170.20" fill="none" stroke="#bdbdbd" stroke-width="0.9" stroke-linejoin="round"/>
<path d="M228.00,170.20 C228.50,169.92 230.08,169.53 231.00,168.50 C231.92,167.47 232.93,165.45 233.50,164.00 C234.07,162.55 234.10,162.03 234.40,159.80 C234.70,157.57 234.85,154.28 235.30,150.60 C235.75,146.92 236.48,142.30 237.10,137.70 C237.72,133.10 238.38,127.88 239.00,123.00 C239.62,118.12 240.30,112.40 240.80,108.40 C241.30,104.40 241.67,101.30 242.00,99.00 C242.33,96.70 242.50,95.53 242.80,94.60 C243.10,93.67 243.63,93.60 243.80,93.40" fill="none" stroke="#b8b8b8" stroke-width="0.85" stroke-linejoin="round"/>
</g>
<line x1="208.5" y1="93.4" x2="208.5" y2="170.2" stroke="#d6d6d6" stroke-width="1.3"/>
<line x1="208.5" y1="93.4" x2="291.7" y2="93.4" stroke="#cdcdcd" stroke-width="1.1"/>
<line x1="291.7" y1="92.9" x2="291.7" y2="170.2" stroke="#a2a2a2" stroke-width="1.1"/>
<line x1="208.0" y1="170.2" x2="292.2" y2="170.2" stroke="#959595" stroke-width="1.1"/>
<path d="M214.8,170.7v1.1M218.4,170.7v1.1M221.0,170.7v1.1M223.0,170.7v1.1M224.7,170.7v1.1M226.1,170.7v1.1M227.3,170.7v1.1M228.3,170.7v1.1M229.3,170.7v1.6M235.6,170.7v1.1M239.2,170.7v1.1M241.8,170.7v1.1M243.8,170.7v1.1M245.5,170.7v1.1M246.9,170.7v1.1M248.1,170.7v1.1M249.1,170.7v1.1M250.1,170.7v1.6M256.4,170.7v1.1M260.0,170.7v1.1M262.6,170.7v1.1M264.6,170.7v1.1M266.3,170.7v1.1M267.7,170.7v1.1M268.9,170.7v1.1M269.9,170.7v1.1M270.9,170.7v1.6M277.2,170.7v1.1M280.8,170.7v1.1M283.4,170.7v1.1M285.4,170.7v1.1M287.1,170.7v1.1M288.5,170.7v1.1M289.7,170.7v1.1M290.7,170.7v1.1" stroke="#b0b0b0" stroke-width="0.6" fill="none"/>
<text x="227.2" y="176.8" class="tk">10<tspan dy="-2.4" dx="0.2" font-size="3.9">0</tspan></text>
<text x="247.1" y="176.8" class="tk">10<tspan dy="-2.4" dx="0.2" font-size="3.9">1</tspan></text>
<text x="267.3" y="176.8" class="tk">10<tspan dy="-2.4" dx="0.2" font-size="3.9">2</tspan></text>
<text x="281.2" y="176.8" class="tk">10<tspan dy="-2.4" dx="0.2" font-size="3.9">3</tspan></text>
<clipPath id="k24"><rect x="300.3" y="93.4" width="83.3" height="76.9"/></clipPath>
<g clip-path="url(#k24)">
<path d="M300.50,171.30 L300.50,169.00 C300.73,168.58 301.08,169.42 301.90,166.50 C302.72,163.58 304.20,156.12 305.40,151.50 C306.60,146.88 307.88,143.33 309.10,138.80 C310.32,134.27 311.50,129.43 312.70,124.30 C313.90,119.17 315.33,112.38 316.30,108.00 C317.27,103.62 317.92,100.43 318.50,98.00 C319.08,95.57 319.35,93.73 319.80,93.40 C320.25,93.07 320.73,93.88 321.20,96.00 C321.67,98.12 322.05,101.38 322.60,106.10 C323.15,110.82 323.88,118.25 324.50,124.30 C325.12,130.35 325.82,136.95 326.30,142.40 C326.78,147.85 326.92,153.37 327.40,157.00 C327.88,160.63 328.33,162.50 329.20,164.20 C330.07,165.90 330.82,166.37 332.60,167.20 C334.38,168.03 338.00,168.68 339.90,169.20 C341.80,169.72 343.32,170.12 344.00,170.30 L344.00,171.30 Z" fill="#838383" stroke="#555555" stroke-width="1.5" stroke-linejoin="round"/>
<path d="M300.50,171.30 L300.50,169.00 C300.73,168.58 301.08,169.42 301.90,166.50 C302.72,163.58 304.20,156.12 305.40,151.50 C306.60,146.88 307.88,143.33 309.10,138.80 C310.32,134.27 311.50,129.43 312.70,124.30 C313.90,119.17 315.33,112.38 316.30,108.00 C317.27,103.62 317.92,100.43 318.50,98.00 C319.08,95.57 319.58,93.73 319.80,93.40 C320.02,93.07 319.63,93.88 319.80,96.00 C319.97,98.12 320.35,101.38 320.80,106.10 C321.25,110.82 321.92,118.25 322.50,124.30 C323.08,130.35 323.82,136.95 324.30,142.40 C324.78,147.85 324.95,153.48 325.40,157.00 C325.85,160.52 326.15,161.83 327.00,163.50 C327.85,165.17 328.83,166.12 330.50,167.00 C332.17,167.88 335.42,168.25 337.00,168.80 C338.58,169.35 339.50,170.05 340.00,170.30 L340.00,171.30 Z" fill="#fff" stroke="none"/>
<path d="M300.50,169.00 C300.73,168.58 301.08,169.42 301.90,166.50 C302.72,163.58 304.20,156.12 305.40,151.50 C306.60,146.88 307.88,143.33 309.10,138.80 C310.32,134.27 311.50,129.43 312.70,124.30 C313.90,119.17 315.33,112.38 316.30,108.00 C317.27,103.62 317.92,100.43 318.50,98.00 C319.08,95.57 319.58,93.73 319.80,93.40 C320.02,93.07 319.63,93.88 319.80,96.00 C319.97,98.12 320.35,101.38 320.80,106.10 C321.25,110.82 321.92,118.25 322.50,124.30 C323.08,130.35 323.82,136.95 324.30,142.40 C324.78,147.85 324.95,153.48 325.40,157.00 C325.85,160.52 326.15,161.83 327.00,163.50 C327.85,165.17 328.83,166.12 330.50,167.00 C332.17,167.88 335.42,168.25 337.00,168.80 C338.58,169.35 339.50,170.05 340.00,170.30" fill="none" stroke="#bdbdbd" stroke-width="0.9" stroke-linejoin="round"/>
<path d="M300.50,169.00 C300.73,168.58 301.08,169.42 301.90,166.50 C302.72,163.58 304.20,156.12 305.40,151.50 C306.60,146.88 307.88,143.33 309.10,138.80 C310.32,134.27 311.50,129.43 312.70,124.30 C313.90,119.17 315.33,112.38 316.30,108.00 C317.27,103.62 317.92,100.43 318.50,98.00 C319.08,95.57 319.58,94.17 319.80,93.40" fill="none" stroke="#a8a8a8" stroke-width="0.85" stroke-linejoin="round"/>
</g>
<line x1="300.3" y1="93.4" x2="300.3" y2="170.3" stroke="#d6d6d6" stroke-width="1.3"/>
<line x1="300.3" y1="93.4" x2="383.6" y2="93.4" stroke="#cdcdcd" stroke-width="1.1"/>
<line x1="383.6" y1="92.9" x2="383.6" y2="170.3" stroke="#a2a2a2" stroke-width="1.1"/>
<line x1="299.8" y1="170.3" x2="384.1" y2="170.3" stroke="#959595" stroke-width="1.1"/>
<path d="M306.6,170.8v1.1M310.2,170.8v1.1M312.8,170.8v1.1M314.9,170.8v1.1M316.5,170.8v1.1M317.9,170.8v1.1M319.1,170.8v1.1M320.2,170.8v1.1M321.1,170.8v1.6M327.4,170.8v1.1M331.1,170.8v1.1M333.7,170.8v1.1M335.7,170.8v1.1M337.3,170.8v1.1M338.7,170.8v1.1M339.9,170.8v1.1M341.0,170.8v1.1M342.0,170.8v1.6M348.2,170.8v1.1M351.9,170.8v1.1M354.5,170.8v1.1M356.5,170.8v1.1M358.2,170.8v1.1M359.5,170.8v1.1M360.8,170.8v1.1M361.8,170.8v1.1M362.8,170.8v1.6M369.0,170.8v1.1M372.7,170.8v1.1M375.3,170.8v1.1M377.3,170.8v1.1M379.0,170.8v1.1M380.4,170.8v1.1M381.6,170.8v1.1M382.6,170.8v1.1" stroke="#b0b0b0" stroke-width="0.6" fill="none"/>
<text x="319.0" y="176.9" class="tk">10<tspan dy="-2.4" dx="0.2" font-size="3.9">0</tspan></text>
<text x="338.9" y="176.9" class="tk">10<tspan dy="-2.4" dx="0.2" font-size="3.9">1</tspan></text>
<text x="359.1" y="176.9" class="tk">10<tspan dy="-2.4" dx="0.2" font-size="3.9">2</tspan></text>
<text x="373.1" y="176.9" class="tk">10<tspan dy="-2.4" dx="0.2" font-size="3.9">3</tspan></text>
<clipPath id="k25"><rect x="393.6" y="93.4" width="83.8" height="76.8"/></clipPath>
<g clip-path="url(#k25)">
<path d="M393.80,171.20 L393.80,170.00 C393.97,169.80 394.10,171.30 394.80,168.80 C395.50,166.30 396.88,159.50 398.00,155.00 C399.12,150.50 400.33,146.47 401.50,141.80 C402.67,137.13 403.87,131.93 405.00,127.00 C406.13,122.07 407.38,116.37 408.30,112.20 C409.22,108.03 409.75,105.13 410.50,102.00 C411.25,98.87 412.30,94.57 412.80,93.40 C413.30,92.23 413.13,93.65 413.50,95.00 C413.87,96.35 414.30,97.28 415.00,101.50 C415.70,105.72 416.80,113.58 417.70,120.30 C418.60,127.02 419.50,135.07 420.40,141.80 C421.30,148.53 421.98,156.43 423.10,160.70 C424.22,164.97 425.32,165.82 427.10,167.40 C428.88,168.98 432.68,169.73 433.80,170.20 L433.80,171.20 Z" fill="#838383" stroke="#555555" stroke-width="1.5" stroke-linejoin="round"/>
<path d="M393.80,171.20 L393.80,170.00 C393.97,169.80 394.10,171.30 394.80,168.80 C395.50,166.30 396.88,159.50 398.00,155.00 C399.12,150.50 400.33,146.47 401.50,141.80 C402.67,137.13 403.87,131.93 405.00,127.00 C406.13,122.07 407.38,116.37 408.30,112.20 C409.22,108.03 409.75,105.13 410.50,102.00 C411.25,98.87 412.38,94.57 412.80,93.40 C413.22,92.23 412.83,93.65 413.00,95.00 C413.17,96.35 413.32,97.28 413.80,101.50 C414.28,105.72 415.12,113.58 415.90,120.30 C416.68,127.02 417.65,135.07 418.50,141.80 C419.35,148.53 420.00,156.43 421.00,160.70 C422.00,164.97 423.17,165.82 424.50,167.40 C425.83,168.98 428.25,169.73 429.00,170.20 L429.00,171.20 Z" fill="#fff" stroke="none"/>
<path d="M393.80,170.00 C393.97,169.80 394.10,171.30 394.80,168.80 C395.50,166.30 396.88,159.50 398.00,155.00 C399.12,150.50 400.33,146.47 401.50,141.80 C402.67,137.13 403.87,131.93 405.00,127.00 C406.13,122.07 407.38,116.37 408.30,112.20 C409.22,108.03 409.75,105.13 410.50,102.00 C411.25,98.87 412.38,94.57 412.80,93.40 C413.22,92.23 412.83,93.65 413.00,95.00 C413.17,96.35 413.32,97.28 413.80,101.50 C414.28,105.72 415.12,113.58 415.90,120.30 C416.68,127.02 417.65,135.07 418.50,141.80 C419.35,148.53 420.00,156.43 421.00,160.70 C422.00,164.97 423.17,165.82 424.50,167.40 C425.83,168.98 428.25,169.73 429.00,170.20" fill="none" stroke="#bdbdbd" stroke-width="0.9" stroke-linejoin="round"/>
<path d="M393.80,170.00 C393.97,169.80 394.10,171.30 394.80,168.80 C395.50,166.30 396.88,159.50 398.00,155.00 C399.12,150.50 400.33,146.47 401.50,141.80 C402.67,137.13 403.87,131.93 405.00,127.00 C406.13,122.07 407.38,116.37 408.30,112.20 C409.22,108.03 409.75,105.13 410.50,102.00 C411.25,98.87 412.42,94.83 412.80,93.40" fill="none" stroke="#a8a8a8" stroke-width="0.85" stroke-linejoin="round"/>
</g>
<line x1="393.6" y1="93.4" x2="393.6" y2="170.2" stroke="#d6d6d6" stroke-width="1.3"/>
<line x1="393.6" y1="93.4" x2="477.4" y2="93.4" stroke="#cdcdcd" stroke-width="1.1"/>
<line x1="477.4" y1="92.9" x2="477.4" y2="170.2" stroke="#a2a2a2" stroke-width="1.1"/>
<line x1="393.1" y1="170.2" x2="477.9" y2="170.2" stroke="#959595" stroke-width="1.1"/>
<path d="M399.9,170.7v1.1M403.6,170.7v1.1M406.2,170.7v1.1M408.2,170.7v1.1M409.9,170.7v1.1M411.3,170.7v1.1M412.5,170.7v1.1M413.6,170.7v1.1M414.6,170.7v1.6M420.9,170.7v1.1M424.5,170.7v1.1M427.2,170.7v1.1M429.2,170.7v1.1M430.9,170.7v1.1M432.3,170.7v1.1M433.5,170.7v1.1M434.5,170.7v1.1M435.5,170.7v1.6M441.8,170.7v1.1M445.5,170.7v1.1M448.1,170.7v1.1M450.1,170.7v1.1M451.8,170.7v1.1M453.2,170.7v1.1M454.4,170.7v1.1M455.5,170.7v1.1M456.4,170.7v1.6M462.8,170.7v1.1M466.4,170.7v1.1M469.1,170.7v1.1M471.1,170.7v1.1M472.8,170.7v1.1M474.2,170.7v1.1M475.4,170.7v1.1M476.4,170.7v1.1" stroke="#b0b0b0" stroke-width="0.6" fill="none"/>
<text x="412.3" y="176.8" class="tk">10<tspan dy="-2.4" dx="0.2" font-size="3.9">0</tspan></text>
<text x="432.2" y="176.8" class="tk">10<tspan dy="-2.4" dx="0.2" font-size="3.9">1</tspan></text>
<text x="452.4" y="176.8" class="tk">10<tspan dy="-2.4" dx="0.2" font-size="3.9">2</tspan></text>
<text x="466.9" y="176.8" class="tk">10<tspan dy="-2.4" dx="0.2" font-size="3.9">3</tspan></text>
<clipPath id="k31"><rect x="23.0" y="183.5" width="83.0" height="76.8"/></clipPath>
<g clip-path="url(#k31)">
<path d="M24.50,261.30 L24.50,260.30 C24.45,259.02 23.70,256.82 24.20,252.60 C24.70,248.38 26.37,241.10 27.50,235.00 C28.63,228.90 29.92,221.83 31.00,216.00 C32.08,210.17 33.17,204.50 34.00,200.00 C34.83,195.50 35.50,191.67 36.00,189.00 C36.50,186.33 36.60,184.75 37.00,184.00 C37.40,183.25 37.73,182.45 38.40,184.50 C39.07,186.55 40.25,192.52 41.00,196.30 C41.75,200.08 42.27,203.27 42.90,207.20 C43.53,211.13 44.18,215.97 44.80,219.90 C45.42,223.83 46.00,227.47 46.60,230.80 C47.20,234.13 47.80,237.17 48.40,239.90 C49.00,242.63 49.48,245.22 50.20,247.20 C50.92,249.18 51.90,250.77 52.70,251.80 C53.50,252.83 54.25,253.03 55.00,253.40 C55.75,253.77 56.37,253.82 57.20,254.00 C58.03,254.18 58.78,254.28 60.00,254.50 C61.22,254.72 63.17,255.18 64.50,255.30 C65.83,255.42 66.92,255.05 68.00,255.20 C69.08,255.35 69.83,255.98 71.00,256.20 C72.17,256.42 73.57,256.28 75.00,256.50 C76.43,256.72 77.83,257.00 79.60,257.50 C81.37,258.00 84.20,259.03 85.60,259.50 C87.00,259.97 87.60,260.17 88.00,260.30 L88.00,261.30 Z" fill="#838383" stroke="#555555" stroke-width="1.15" stroke-linejoin="round"/>
<path d="M23.00,261.30 L23.00,257.00 C23.12,256.27 23.03,256.27 23.70,252.60 C24.37,248.93 25.87,241.10 27.00,235.00 C28.13,228.90 29.42,221.83 30.50,216.00 C31.58,210.17 32.67,204.50 33.50,200.00 C34.33,195.50 34.98,191.67 35.50,189.00 C36.02,186.33 36.22,184.83 36.60,184.00 C36.98,183.17 37.15,181.95 37.80,184.00 C38.45,186.05 39.75,192.43 40.50,196.30 C41.25,200.17 41.72,203.27 42.30,207.20 C42.88,211.13 43.48,215.97 44.00,219.90 C44.52,223.83 44.87,227.12 45.40,230.80 C45.93,234.48 46.57,238.63 47.20,242.00 C47.83,245.37 48.57,248.50 49.20,251.00 C49.83,253.50 50.37,255.45 51.00,257.00 C51.63,258.55 52.67,259.75 53.00,260.30 L53.00,261.30 Z" fill="#fff" stroke="none"/>
<path d="M23.00,257.00 C23.12,256.27 23.03,256.27 23.70,252.60 C24.37,248.93 25.87,241.10 27.00,235.00 C28.13,228.90 29.42,221.83 30.50,216.00 C31.58,210.17 32.67,204.50 33.50,200.00 C34.33,195.50 34.98,191.67 35.50,189.00 C36.02,186.33 36.22,184.83 36.60,184.00 C36.98,183.17 37.15,181.95 37.80,184.00 C38.45,186.05 39.75,192.43 40.50,196.30 C41.25,200.17 41.72,203.27 42.30,207.20 C42.88,211.13 43.48,215.97 44.00,219.90 C44.52,223.83 44.87,227.12 45.40,230.80 C45.93,234.48 46.57,238.63 47.20,242.00 C47.83,245.37 48.57,248.50 49.20,251.00 C49.83,253.50 50.37,255.45 51.00,257.00 C51.63,258.55 52.67,259.75 53.00,260.30" fill="none" stroke="#bdbdbd" stroke-width="0.9" stroke-linejoin="round"/>
<path d="M24.50,260.30 C24.45,259.02 23.70,256.82 24.20,252.60 C24.70,248.38 26.37,241.10 27.50,235.00 C28.63,228.90 29.92,221.83 31.00,216.00 C32.08,210.17 33.17,204.50 34.00,200.00 C34.83,195.50 35.50,191.67 36.00,189.00 C36.50,186.33 36.83,184.83 37.00,184.00" fill="none" stroke="#8c8c8c" stroke-width="0.85" stroke-linejoin="round"/>
</g>
<line x1="23.0" y1="183.5" x2="23.0" y2="260.3" stroke="#d6d6d6" stroke-width="1.3"/>
<line x1="23.0" y1="183.5" x2="106.0" y2="183.5" stroke="#cdcdcd" stroke-width="1.1"/>
<line x1="106.0" y1="183.0" x2="106.0" y2="260.3" stroke="#a2a2a2" stroke-width="1.1"/>
<line x1="22.5" y1="260.3" x2="106.5" y2="260.3" stroke="#959595" stroke-width="1.1"/>
<path d="M29.2,260.8v1.1M32.9,260.8v1.1M35.5,260.8v1.1M37.5,260.8v1.1M39.1,260.8v1.1M40.5,260.8v1.1M41.7,260.8v1.1M42.8,260.8v1.1M43.8,260.8v1.6M50.0,260.8v1.1M53.7,260.8v1.1M56.2,260.8v1.1M58.3,260.8v1.1M59.9,260.8v1.1M61.3,260.8v1.1M62.5,260.8v1.1M63.6,260.8v1.1M64.5,260.8v1.6M70.7,260.8v1.1M74.4,260.8v1.1M77.0,260.8v1.1M79.0,260.8v1.1M80.6,260.8v1.1M82.0,260.8v1.1M83.2,260.8v1.1M84.3,260.8v1.1M85.2,260.8v1.6M91.5,260.8v1.1M95.2,260.8v1.1M97.7,260.8v1.1M99.8,260.8v1.1M101.4,260.8v1.1M102.8,260.8v1.1M104.0,260.8v1.1M105.1,260.8v1.1" stroke="#b0b0b0" stroke-width="0.6" fill="none"/>
<text x="41.7" y="266.9" class="tk">10<tspan dy="-2.4" dx="0.2" font-size="3.9">0</tspan></text>
<text x="61.6" y="266.9" class="tk">10<tspan dy="-2.4" dx="0.2" font-size="3.9">1</tspan></text>
<text x="81.8" y="266.9" class="tk">10<tspan dy="-2.4" dx="0.2" font-size="3.9">2</tspan></text>
<text x="95.5" y="266.9" class="tk">10<tspan dy="-2.4" dx="0.2" font-size="3.9">3</tspan></text>
<clipPath id="k32"><rect x="117.7" y="184.2" width="83.3" height="76.8"/></clipPath>
<g clip-path="url(#k32)">
<path d="M127.00,262.00 L127.00,261.00 C127.50,260.17 128.90,258.92 130.00,256.00 C131.10,253.08 132.55,248.60 133.60,243.50 C134.65,238.40 135.53,230.83 136.30,225.40 C137.07,219.97 137.58,215.75 138.20,210.90 C138.82,206.05 139.50,199.18 140.00,196.30 C140.50,193.42 140.75,194.20 141.20,193.60 C141.65,193.00 142.15,193.15 142.70,192.70 C143.25,192.25 143.90,191.65 144.50,190.90 C145.10,190.15 145.70,189.12 146.30,188.20 C146.90,187.28 147.65,186.07 148.10,185.40 C148.55,184.73 148.70,184.20 149.00,184.20 C149.30,184.20 149.60,184.58 149.90,185.40 C150.20,186.22 150.50,187.58 150.80,189.10 C151.10,190.62 151.40,193.00 151.70,194.50 C152.00,196.00 152.28,195.98 152.60,198.10 C152.92,200.22 153.13,204.17 153.60,207.20 C154.07,210.23 154.80,213.27 155.40,216.30 C156.00,219.33 156.60,222.68 157.20,225.40 C157.80,228.12 158.40,230.18 159.00,232.60 C159.60,235.02 160.20,237.78 160.80,239.90 C161.40,242.02 161.85,243.48 162.60,245.30 C163.35,247.12 164.40,249.13 165.30,250.80 C166.20,252.47 166.93,253.95 168.00,255.30 C169.07,256.65 170.48,257.98 171.70,258.90 C172.92,259.82 174.42,260.45 175.30,260.80 C176.18,261.15 176.72,260.97 177.00,261.00 L177.00,262.00 Z" fill="#838383" stroke="#555555" stroke-width="1.15" stroke-linejoin="round"/>
<path d="M118.00,262.00 L118.00,261.00 C118.17,260.08 118.02,259.73 119.00,255.50 C119.98,251.27 122.25,242.22 123.90,235.60 C125.55,228.98 127.58,221.57 128.90,215.80 C130.22,210.03 131.02,204.80 131.80,201.00 C132.58,197.20 133.00,195.25 133.60,193.00 C134.20,190.75 134.95,188.92 135.40,187.50 C135.85,186.08 135.98,184.75 136.30,184.50 C136.62,184.25 136.93,185.08 137.30,186.00 C137.67,186.92 138.12,188.28 138.50,190.00 C138.88,191.72 139.45,193.43 139.60,196.30 C139.75,199.17 139.43,202.35 139.40,207.20 C139.37,212.05 139.22,220.25 139.40,225.40 C139.58,230.55 140.02,234.17 140.50,238.10 C140.98,242.03 141.63,245.98 142.30,249.00 C142.97,252.02 143.53,254.38 144.50,256.20 C145.47,258.02 147.18,259.10 148.10,259.90 C149.02,260.70 149.68,260.82 150.00,261.00 L150.00,262.00 Z" fill="#fff" stroke="none"/>
<path d="M118.00,261.00 C118.17,260.08 118.02,259.73 119.00,255.50 C119.98,251.27 122.25,242.22 123.90,235.60 C125.55,228.98 127.58,221.57 128.90,215.80 C130.22,210.03 131.02,204.80 131.80,201.00 C132.58,197.20 133.00,195.25 133.60,193.00 C134.20,190.75 134.95,188.92 135.40,187.50 C135.85,186.08 135.98,184.75 136.30,184.50 C136.62,184.25 136.93,185.08 137.30,186.00 C137.67,186.92 138.12,188.28 138.50,190.00 C138.88,191.72 139.45,193.43 139.60,196.30 C139.75,199.17 139.43,202.35 139.40,207.20 C139.37,212.05 139.22,220.25 139.40,225.40 C139.58,230.55 140.02,234.17 140.50,238.10 C140.98,242.03 141.63,245.98 142.30,249.00 C142.97,252.02 143.53,254.38 144.50,256.20 C145.47,258.02 147.18,259.10 148.10,259.90 C149.02,260.70 149.68,260.82 150.00,261.00" fill="none" stroke="#bdbdbd" stroke-width="0.9" stroke-linejoin="round"/>
<path d="M127.00,261.00 C127.50,260.17 128.90,258.92 130.00,256.00 C131.10,253.08 132.55,248.60 133.60,243.50 C134.65,238.40 135.53,230.83 136.30,225.40 C137.07,219.97 137.58,215.75 138.20,210.90 C138.82,206.05 139.50,199.18 140.00,196.30 C140.50,193.42 140.75,194.20 141.20,193.60 C141.65,193.00 142.15,193.15 142.70,192.70 C143.25,192.25 143.90,191.65 144.50,190.90 C145.10,190.15 145.70,189.12 146.30,188.20 C146.90,187.28 147.65,186.07 148.10,185.40 C148.55,184.73 148.85,184.40 149.00,184.20" fill="none" stroke="#b8b8b8" stroke-width="0.85" stroke-linejoin="round"/>
</g>
<line x1="117.7" y1="184.2" x2="117.7" y2="261.0" stroke="#d6d6d6" stroke-width="1.3"/>
<line x1="117.7" y1="184.2" x2="201.0" y2="184.2" stroke="#cdcdcd" stroke-width="1.1"/>
<line x1="201.0" y1="183.7" x2="201.0" y2="261.0" stroke="#a2a2a2" stroke-width="1.1"/>
<line x1="117.2" y1="261.0" x2="201.5" y2="261.0" stroke="#959595" stroke-width="1.1"/>
<path d="M124.0,261.5v1.1M127.6,261.5v1.1M130.2,261.5v1.1M132.3,261.5v1.1M133.9,261.5v1.1M135.3,261.5v1.1M136.5,261.5v1.1M137.6,261.5v1.1M138.5,261.5v1.6M144.8,261.5v1.1M148.5,261.5v1.1M151.1,261.5v1.1M153.1,261.5v1.1M154.7,261.5v1.1M156.1,261.5v1.1M157.3,261.5v1.1M158.4,261.5v1.1M159.3,261.5v1.6M165.6,261.5v1.1M169.3,261.5v1.1M171.9,261.5v1.1M173.9,261.5v1.1M175.6,261.5v1.1M176.9,261.5v1.1M178.2,261.5v1.1M179.2,261.5v1.1M180.2,261.5v1.6M186.4,261.5v1.1M190.1,261.5v1.1M192.7,261.5v1.1M194.7,261.5v1.1M196.4,261.5v1.1M197.8,261.5v1.1M199.0,261.5v1.1M200.0,261.5v1.1" stroke="#b0b0b0" stroke-width="0.6" fill="none"/>
<text x="136.4" y="267.6" class="tk">10<tspan dy="-2.4" dx="0.2" font-size="3.9">0</tspan></text>
<text x="156.3" y="267.6" class="tk">10<tspan dy="-2.4" dx="0.2" font-size="3.9">1</tspan></text>
<text x="176.5" y="267.6" class="tk">10<tspan dy="-2.4" dx="0.2" font-size="3.9">2</tspan></text>
<text x="190.5" y="267.6" class="tk">10<tspan dy="-2.4" dx="0.2" font-size="3.9">3</tspan></text>
<clipPath id="k33"><rect x="209.3" y="184.2" width="83.1" height="76.9"/></clipPath>
<g clip-path="url(#k33)">
<path d="M222.00,262.10 L222.00,261.10 C222.48,260.67 223.60,259.77 224.90,258.50 C226.20,257.23 228.45,255.25 229.80,253.50 C231.15,251.75 231.98,250.27 233.00,248.00 C234.02,245.73 235.12,242.77 235.90,239.90 C236.68,237.03 236.95,233.83 237.70,230.80 C238.45,227.77 239.50,224.72 240.40,221.70 C241.30,218.68 242.35,215.12 243.10,212.70 C243.85,210.28 244.35,208.87 244.90,207.20 C245.45,205.53 245.95,203.75 246.40,202.70 C246.85,201.65 247.23,200.60 247.60,200.90 C247.97,201.20 248.13,204.97 248.60,204.50 C249.07,204.03 249.80,199.77 250.40,198.10 C251.00,196.43 251.60,195.55 252.20,194.50 C252.80,193.45 253.47,193.48 254.00,191.80 C254.53,190.12 254.95,184.25 255.40,184.40 C255.85,184.55 256.18,190.72 256.70,192.70 C257.22,194.68 258.05,194.48 258.50,196.30 C258.95,198.12 258.95,200.27 259.40,203.60 C259.85,206.93 260.60,211.77 261.20,216.30 C261.80,220.83 262.55,226.27 263.00,230.80 C263.45,235.33 263.43,239.57 263.90,243.50 C264.37,247.43 265.03,251.67 265.80,254.40 C266.57,257.13 267.80,258.78 268.50,259.90 C269.20,261.02 269.75,260.90 270.00,261.10 L270.00,262.10 Z" fill="#838383" stroke="#555555" stroke-width="1.15" stroke-linejoin="round"/>
<path d="M209.50,262.10 L209.50,261.00 C209.73,260.08 209.83,259.73 210.90,255.50 C211.97,251.27 214.40,242.22 215.90,235.60 C217.40,228.98 218.57,222.08 219.90,215.80 C221.23,209.52 222.65,202.72 223.90,197.90 C225.15,193.08 226.75,188.88 227.40,186.90 C228.05,184.92 227.40,183.83 227.80,186.00 C228.20,188.17 229.20,194.93 229.80,199.90 C230.40,204.87 230.90,210.83 231.40,215.80 C231.90,220.77 232.37,225.40 232.80,229.70 C233.23,234.00 233.57,238.38 234.00,241.60 C234.43,244.82 234.78,246.87 235.40,249.00 C236.02,251.13 236.87,252.90 237.70,254.40 C238.53,255.90 239.50,257.08 240.40,258.00 C241.30,258.92 242.33,259.38 243.10,259.90 C243.87,260.42 244.68,260.90 245.00,261.10 L245.00,262.10 Z" fill="#fff" stroke="none"/>
<path d="M209.50,261.00 C209.73,260.08 209.83,259.73 210.90,255.50 C211.97,251.27 214.40,242.22 215.90,235.60 C217.40,228.98 218.57,222.08 219.90,215.80 C221.23,209.52 222.65,202.72 223.90,197.90 C225.15,193.08 226.75,188.88 227.40,186.90 C228.05,184.92 227.40,183.83 227.80,186.00 C228.20,188.17 229.20,194.93 229.80,199.90 C230.40,204.87 230.90,210.83 231.40,215.80 C231.90,220.77 232.37,225.40 232.80,229.70 C233.23,234.00 233.57,238.38 234.00,241.60 C234.43,244.82 234.78,246.87 235.40,249.00 C236.02,251.13 236.87,252.90 237.70,254.40 C238.53,255.90 239.50,257.08 240.40,258.00 C241.30,258.92 242.33,259.38 243.10,259.90 C243.87,260.42 244.68,260.90 245.00,261.10" fill="none" stroke="#bdbdbd" stroke-width="0.9" stroke-linejoin="round"/>
<path d="M222.00,261.10 C222.48,260.67 223.60,259.77 224.90,258.50 C226.20,257.23 228.45,255.25 229.80,253.50 C231.15,251.75 231.98,250.27 233.00,248.00 C234.02,245.73 235.12,242.77 235.90,239.90 C236.68,237.03 236.95,233.83 237.70,230.80 C238.45,227.77 239.50,224.72 240.40,221.70 C241.30,218.68 242.35,215.12 243.10,212.70 C243.85,210.28 244.35,208.87 244.90,207.20 C245.45,205.53 245.95,203.75 246.40,202.70 C246.85,201.65 247.23,200.60 247.60,200.90 C247.97,201.20 248.13,204.97 248.60,204.50 C249.07,204.03 249.80,199.77 250.40,198.10 C251.00,196.43 251.60,195.55 252.20,194.50 C252.80,193.45 253.47,193.48 254.00,191.80 C254.53,190.12 255.17,185.63 255.40,184.40" fill="none" stroke="#b8b8b8" stroke-width="0.85" stroke-linejoin="round"/>
</g>
<line x1="209.3" y1="184.2" x2="209.3" y2="261.1" stroke="#d6d6d6" stroke-width="1.3"/>
<line x1="209.3" y1="184.2" x2="292.4" y2="184.2" stroke="#cdcdcd" stroke-width="1.1"/>
<line x1="292.4" y1="183.7" x2="292.4" y2="261.1" stroke="#a2a2a2" stroke-width="1.1"/>
<line x1="208.8" y1="261.1" x2="292.9" y2="261.1" stroke="#959595" stroke-width="1.1"/>
<path d="M215.6,261.6v1.1M219.2,261.6v1.1M221.8,261.6v1.1M223.8,261.6v1.1M225.5,261.6v1.1M226.9,261.6v1.1M228.1,261.6v1.1M229.1,261.6v1.1M230.1,261.6v1.6M236.3,261.6v1.1M240.0,261.6v1.1M242.6,261.6v1.1M244.6,261.6v1.1M246.2,261.6v1.1M247.6,261.6v1.1M248.8,261.6v1.1M249.9,261.6v1.1M250.8,261.6v1.6M257.1,261.6v1.1M260.8,261.6v1.1M263.4,261.6v1.1M265.4,261.6v1.1M267.0,261.6v1.1M268.4,261.6v1.1M269.6,261.6v1.1M270.7,261.6v1.1M271.6,261.6v1.6M277.9,261.6v1.1M281.5,261.6v1.1M284.1,261.6v1.1M286.1,261.6v1.1M287.8,261.6v1.1M289.2,261.6v1.1M290.4,261.6v1.1M291.4,261.6v1.1" stroke="#b0b0b0" stroke-width="0.6" fill="none"/>
<text x="228.0" y="267.7" class="tk">10<tspan dy="-2.4" dx="0.2" font-size="3.9">0</tspan></text>
<text x="247.9" y="267.7" class="tk">10<tspan dy="-2.4" dx="0.2" font-size="3.9">1</tspan></text>
<text x="268.1" y="267.7" class="tk">10<tspan dy="-2.4" dx="0.2" font-size="3.9">2</tspan></text>
<text x="281.9" y="267.7" class="tk">10<tspan dy="-2.4" dx="0.2" font-size="3.9">3</tspan></text>
<clipPath id="k34"><rect x="302.6" y="184.3" width="82.7" height="76.7"/></clipPath>
<g clip-path="url(#k34)">
<path d="M305.00,262.00 L305.00,261.00 C305.17,260.00 305.33,258.83 306.00,255.00 C306.67,251.17 308.00,243.50 309.00,238.00 C310.00,232.50 311.00,227.00 312.00,222.00 C313.00,217.00 314.00,212.33 315.00,208.00 C316.00,203.67 317.17,199.00 318.00,196.00 C318.83,193.00 319.42,191.92 320.00,190.00 C320.58,188.08 321.07,184.95 321.50,184.50 C321.93,184.05 322.10,185.03 322.60,187.30 C323.10,189.57 323.88,194.17 324.50,198.10 C325.12,202.03 325.70,206.65 326.30,210.90 C326.90,215.15 327.50,219.68 328.10,223.60 C328.70,227.52 329.15,231.08 329.90,234.40 C330.65,237.72 331.70,241.07 332.60,243.50 C333.50,245.93 334.40,247.48 335.30,249.00 C336.20,250.52 336.93,251.40 338.00,252.60 C339.07,253.80 340.48,255.13 341.70,256.20 C342.92,257.27 344.10,258.32 345.30,259.00 C346.50,259.68 347.95,259.97 348.90,260.30 C349.85,260.63 350.65,260.88 351.00,261.00 L351.00,262.00 Z" fill="#838383" stroke="#555555" stroke-width="1.4" stroke-linejoin="round"/>
<path d="M302.60,262.00 L302.60,261.00 C302.77,260.20 302.98,259.12 303.60,256.20 C304.22,253.28 305.38,247.73 306.30,243.50 C307.22,239.27 308.18,235.33 309.10,230.80 C310.02,226.27 310.90,221.13 311.80,216.30 C312.70,211.47 313.60,205.43 314.50,201.80 C315.40,198.17 316.45,196.32 317.20,194.50 C317.95,192.68 318.45,192.57 319.00,190.90 C319.55,189.23 320.12,185.10 320.50,184.50 C320.88,183.90 320.95,185.03 321.30,187.30 C321.65,189.57 322.07,193.87 322.60,198.10 C323.13,202.33 323.88,207.85 324.50,212.70 C325.12,217.55 325.70,222.67 326.30,227.20 C326.90,231.73 327.35,235.97 328.10,239.90 C328.85,243.83 329.75,248.08 330.80,250.80 C331.85,253.52 333.20,254.68 334.40,256.20 C335.60,257.72 337.07,259.10 338.00,259.90 C338.93,260.70 339.67,260.82 340.00,261.00 L340.00,262.00 Z" fill="#fff" stroke="none"/>
<path d="M302.60,261.00 C302.77,260.20 302.98,259.12 303.60,256.20 C304.22,253.28 305.38,247.73 306.30,243.50 C307.22,239.27 308.18,235.33 309.10,230.80 C310.02,226.27 310.90,221.13 311.80,216.30 C312.70,211.47 313.60,205.43 314.50,201.80 C315.40,198.17 316.45,196.32 317.20,194.50 C317.95,192.68 318.45,192.57 319.00,190.90 C319.55,189.23 320.12,185.10 320.50,184.50 C320.88,183.90 320.95,185.03 321.30,187.30 C321.65,189.57 322.07,193.87 322.60,198.10 C323.13,202.33 323.88,207.85 324.50,212.70 C325.12,217.55 325.70,222.67 326.30,227.20 C326.90,231.73 327.35,235.97 328.10,239.90 C328.85,243.83 329.75,248.08 330.80,250.80 C331.85,253.52 333.20,254.68 334.40,256.20 C335.60,257.72 337.07,259.10 338.00,259.90 C338.93,260.70 339.67,260.82 340.00,261.00" fill="none" stroke="#bdbdbd" stroke-width="0.9" stroke-linejoin="round"/>
<path d="M305.00,261.00 C305.17,260.00 305.33,258.83 306.00,255.00 C306.67,251.17 308.00,243.50 309.00,238.00 C310.00,232.50 311.00,227.00 312.00,222.00 C313.00,217.00 314.00,212.33 315.00,208.00 C316.00,203.67 317.17,199.00 318.00,196.00 C318.83,193.00 319.42,191.92 320.00,190.00 C320.58,188.08 321.25,185.42 321.50,184.50" fill="none" stroke="#a8a8a8" stroke-width="0.85" stroke-linejoin="round"/>
</g>
<line x1="302.6" y1="184.3" x2="302.6" y2="261.0" stroke="#d6d6d6" stroke-width="1.3"/>
<line x1="302.6" y1="184.3" x2="385.3" y2="184.3" stroke="#cdcdcd" stroke-width="1.1"/>
<line x1="385.3" y1="183.8" x2="385.3" y2="261.0" stroke="#a2a2a2" stroke-width="1.1"/>
<line x1="302.1" y1="261.0" x2="385.8" y2="261.0" stroke="#959595" stroke-width="1.1"/>
<path d="M308.8,261.5v1.1M312.5,261.5v1.1M315.0,261.5v1.1M317.1,261.5v1.1M318.7,261.5v1.1M320.1,261.5v1.1M321.3,261.5v1.1M322.3,261.5v1.1M323.3,261.5v1.6M329.5,261.5v1.1M333.1,261.5v1.1M335.7,261.5v1.1M337.7,261.5v1.1M339.4,261.5v1.1M340.7,261.5v1.1M341.9,261.5v1.1M343.0,261.5v1.1M344.0,261.5v1.6M350.2,261.5v1.1M353.8,261.5v1.1M356.4,261.5v1.1M358.4,261.5v1.1M360.0,261.5v1.1M361.4,261.5v1.1M362.6,261.5v1.1M363.7,261.5v1.1M364.6,261.5v1.6M370.8,261.5v1.1M374.5,261.5v1.1M377.1,261.5v1.1M379.1,261.5v1.1M380.7,261.5v1.1M382.1,261.5v1.1M383.3,261.5v1.1M384.4,261.5v1.1" stroke="#b0b0b0" stroke-width="0.6" fill="none"/>
<text x="321.3" y="267.6" class="tk">10<tspan dy="-2.4" dx="0.2" font-size="3.9">0</tspan></text>
<text x="341.2" y="267.6" class="tk">10<tspan dy="-2.4" dx="0.2" font-size="3.9">1</tspan></text>
<text x="361.4" y="267.6" class="tk">10<tspan dy="-2.4" dx="0.2" font-size="3.9">2</tspan></text>
<text x="374.8" y="267.6" class="tk">10<tspan dy="-2.4" dx="0.2" font-size="3.9">3</tspan></text>
<clipPath id="k35"><rect x="394.5" y="184.2" width="83.3" height="76.8"/></clipPath>
<g clip-path="url(#k35)">
<path d="M396.00,262.00 L396.00,261.00 C396.28,260.50 396.82,260.00 397.70,258.00 C398.58,256.00 400.23,252.93 401.30,249.00 C402.37,245.07 403.18,239.85 404.10,234.40 C405.02,228.95 405.90,221.73 406.80,216.30 C407.70,210.87 408.60,206.35 409.50,201.80 C410.40,197.25 411.52,191.88 412.20,189.00 C412.88,186.12 413.22,184.83 413.60,184.50 C413.98,184.17 414.13,185.33 414.50,187.00 C414.87,188.67 415.28,191.13 415.80,194.50 C416.32,197.87 416.98,202.97 417.60,207.20 C418.22,211.43 418.88,215.97 419.50,219.90 C420.12,223.83 420.70,227.47 421.30,230.80 C421.90,234.13 422.35,237.17 423.10,239.90 C423.85,242.63 424.90,245.08 425.80,247.20 C426.70,249.32 427.60,251.10 428.50,252.60 C429.40,254.10 430.13,255.15 431.20,256.20 C432.27,257.25 433.68,258.22 434.90,258.90 C436.12,259.58 437.48,259.95 438.50,260.30 C439.52,260.65 440.58,260.88 441.00,261.00 L441.00,262.00 Z" fill="#838383" stroke="#555555" stroke-width="1.4" stroke-linejoin="round"/>
<path d="M394.50,262.00 L394.50,259.00 C394.73,258.53 395.22,257.87 395.90,256.20 C396.58,254.53 397.55,252.63 398.60,249.00 C399.65,245.37 401.13,238.95 402.20,234.40 C403.27,229.85 404.08,226.23 405.00,221.70 C405.92,217.17 406.80,211.73 407.70,207.20 C408.60,202.67 409.65,197.82 410.40,194.50 C411.15,191.18 411.75,188.97 412.20,187.30 C412.65,185.63 412.65,182.70 413.10,184.50 C413.55,186.30 414.30,193.40 414.90,198.10 C415.50,202.80 416.08,207.85 416.70,212.70 C417.32,217.55 417.98,222.67 418.60,227.20 C419.22,231.73 419.80,236.27 420.40,239.90 C421.00,243.53 421.45,246.58 422.20,249.00 C422.95,251.42 423.85,252.82 424.90,254.40 C425.95,255.98 427.15,257.48 428.50,258.50 C429.85,259.52 431.75,260.08 433.00,260.50 C434.25,260.92 435.50,260.92 436.00,261.00 L436.00,262.00 Z" fill="#fff" stroke="none"/>
<path d="M394.50,259.00 C394.73,258.53 395.22,257.87 395.90,256.20 C396.58,254.53 397.55,252.63 398.60,249.00 C399.65,245.37 401.13,238.95 402.20,234.40 C403.27,229.85 404.08,226.23 405.00,221.70 C405.92,217.17 406.80,211.73 407.70,207.20 C408.60,202.67 409.65,197.82 410.40,194.50 C411.15,191.18 411.75,188.97 412.20,187.30 C412.65,185.63 412.65,182.70 413.10,184.50 C413.55,186.30 414.30,193.40 414.90,198.10 C415.50,202.80 416.08,207.85 416.70,212.70 C417.32,217.55 417.98,222.67 418.60,227.20 C419.22,231.73 419.80,236.27 420.40,239.90 C421.00,243.53 421.45,246.58 422.20,249.00 C422.95,251.42 423.85,252.82 424.90,254.40 C425.95,255.98 427.15,257.48 428.50,258.50 C429.85,259.52 431.75,260.08 433.00,260.50 C434.25,260.92 435.50,260.92 436.00,261.00" fill="none" stroke="#bdbdbd" stroke-width="0.9" stroke-linejoin="round"/>
<path d="M396.00,261.00 C396.28,260.50 396.82,260.00 397.70,258.00 C398.58,256.00 400.23,252.93 401.30,249.00 C402.37,245.07 403.18,239.85 404.10,234.40 C405.02,228.95 405.90,221.73 406.80,216.30 C407.70,210.87 408.60,206.35 409.50,201.80 C410.40,197.25 411.52,191.88 412.20,189.00 C412.88,186.12 413.37,185.25 413.60,184.50" fill="none" stroke="#a8a8a8" stroke-width="0.85" stroke-linejoin="round"/>
</g>
<line x1="394.5" y1="184.2" x2="394.5" y2="261.0" stroke="#d6d6d6" stroke-width="1.3"/>
<line x1="394.5" y1="184.2" x2="477.8" y2="184.2" stroke="#cdcdcd" stroke-width="1.1"/>
<line x1="477.8" y1="183.7" x2="477.8" y2="261.0" stroke="#a2a2a2" stroke-width="1.1"/>
<line x1="394.0" y1="261.0" x2="478.3" y2="261.0" stroke="#959595" stroke-width="1.1"/>
<path d="M400.8,261.5v1.1M404.4,261.5v1.1M407.0,261.5v1.1M409.1,261.5v1.1M410.7,261.5v1.1M412.1,261.5v1.1M413.3,261.5v1.1M414.4,261.5v1.1M415.3,261.5v1.6M421.6,261.5v1.1M425.3,261.5v1.1M427.9,261.5v1.1M429.9,261.5v1.1M431.5,261.5v1.1M432.9,261.5v1.1M434.1,261.5v1.1M435.2,261.5v1.1M436.1,261.5v1.6M442.4,261.5v1.1M446.1,261.5v1.1M448.7,261.5v1.1M450.7,261.5v1.1M452.4,261.5v1.1M453.7,261.5v1.1M455.0,261.5v1.1M456.0,261.5v1.1M457.0,261.5v1.6M463.2,261.5v1.1M466.9,261.5v1.1M469.5,261.5v1.1M471.5,261.5v1.1M473.2,261.5v1.1M474.6,261.5v1.1M475.8,261.5v1.1M476.8,261.5v1.1" stroke="#b0b0b0" stroke-width="0.6" fill="none"/>
<text x="413.2" y="267.6" class="tk">10<tspan dy="-2.4" dx="0.2" font-size="3.9">0</tspan></text>
<text x="433.1" y="267.6" class="tk">10<tspan dy="-2.4" dx="0.2" font-size="3.9">1</tspan></text>
<text x="453.3" y="267.6" class="tk">10<tspan dy="-2.4" dx="0.2" font-size="3.9">2</tspan></text>
<text x="467.3" y="267.6" class="tk">10<tspan dy="-2.4" dx="0.2" font-size="3.9">3</tspan></text>
<clipPath id="k41"><rect x="23.3" y="272.4" width="83.1" height="76.7"/></clipPath>
<g clip-path="url(#k41)">
<path d="M26.00,350.10 L26.00,349.10 C26.22,348.28 26.62,347.13 27.30,344.20 C27.98,341.27 29.03,336.03 30.10,331.50 C31.17,326.97 32.50,322.43 33.70,317.00 C34.90,311.57 36.25,304.65 37.30,298.90 C38.35,293.15 39.40,286.92 40.00,282.50 C40.60,278.08 40.30,274.08 40.90,272.40 C41.50,270.72 42.83,272.23 43.60,272.40 C44.37,272.57 44.88,272.92 45.50,273.40 C46.12,273.88 46.85,273.18 47.30,275.30 C47.75,277.42 47.75,281.87 48.20,286.10 C48.65,290.33 49.40,296.15 50.00,300.70 C50.60,305.25 51.27,309.78 51.80,313.40 C52.33,317.02 52.90,320.28 53.20,322.40 C53.50,324.52 53.08,325.18 53.60,326.10 C54.12,327.02 55.65,327.42 56.30,327.90 C56.95,328.38 57.03,328.93 57.50,329.00 C57.97,329.07 58.60,328.23 59.10,328.30 C59.60,328.37 60.00,329.90 60.50,329.40 C61.00,328.90 61.55,325.37 62.10,325.30 C62.65,325.23 63.20,329.17 63.80,329.00 C64.40,328.83 65.08,324.38 65.70,324.30 C66.32,324.22 66.65,328.33 67.50,328.50 C68.35,328.67 69.88,325.22 70.80,325.30 C71.72,325.38 72.23,328.67 73.00,329.00 C73.77,329.33 74.68,327.23 75.40,327.30 C76.12,327.37 76.62,329.65 77.30,329.40 C77.98,329.15 78.85,325.90 79.50,325.80 C80.15,325.70 80.62,329.05 81.20,328.80 C81.78,328.55 82.43,324.35 83.00,324.30 C83.57,324.25 84.08,328.08 84.60,328.50 C85.12,328.92 85.45,326.72 86.10,326.80 C86.75,326.88 87.73,329.42 88.50,329.00 C89.27,328.58 90.12,324.47 90.70,324.30 C91.28,324.13 91.58,327.67 92.00,328.00 C92.42,328.33 92.83,326.42 93.20,326.30 C93.57,326.18 93.60,325.77 94.20,327.30 C94.80,328.83 96.03,333.12 96.80,335.50 C97.57,337.88 98.12,339.90 98.80,341.60 C99.48,343.30 100.22,344.60 100.90,345.70 C101.58,346.80 102.23,347.63 102.90,348.20 C103.57,348.77 104.57,348.95 104.90,349.10 L104.90,350.10 Z" fill="#838383" stroke="#555555" stroke-width="1.15" stroke-linejoin="round"/>
<path d="M23.30,350.10 L23.30,349.00 C23.37,348.50 23.18,348.92 23.70,346.00 C24.22,343.08 25.33,336.93 26.40,331.50 C27.47,326.07 28.88,319.45 30.10,313.40 C31.32,307.35 32.65,300.95 33.70,295.20 C34.75,289.45 35.80,282.70 36.40,278.90 C37.00,275.10 36.78,273.48 37.30,272.40 C37.82,271.32 38.83,272.40 39.50,272.40 C40.17,272.40 40.92,270.72 41.30,272.40 C41.68,274.08 41.42,278.70 41.80,282.50 C42.18,286.30 42.83,290.67 43.60,295.20 C44.37,299.73 45.63,305.17 46.40,309.70 C47.17,314.23 47.60,318.15 48.20,322.40 C48.80,326.65 49.25,331.57 50.00,335.20 C50.75,338.83 51.80,342.07 52.70,344.20 C53.60,346.33 54.52,347.18 55.40,348.00 C56.28,348.82 57.57,348.92 58.00,349.10 L58.00,350.10 Z" fill="#fff" stroke="none"/>
<path d="M23.30,349.00 C23.37,348.50 23.18,348.92 23.70,346.00 C24.22,343.08 25.33,336.93 26.40,331.50 C27.47,326.07 28.88,319.45 30.10,313.40 C31.32,307.35 32.65,300.95 33.70,295.20 C34.75,289.45 35.80,282.70 36.40,278.90 C37.00,275.10 36.78,273.48 37.30,272.40 C37.82,271.32 38.83,272.40 39.50,272.40 C40.17,272.40 40.92,270.72 41.30,272.40 C41.68,274.08 41.42,278.70 41.80,282.50 C42.18,286.30 42.83,290.67 43.60,295.20 C44.37,299.73 45.63,305.17 46.40,309.70 C47.17,314.23 47.60,318.15 48.20,322.40 C48.80,326.65 49.25,331.57 50.00,335.20 C50.75,338.83 51.80,342.07 52.70,344.20 C53.60,346.33 54.52,347.18 55.40,348.00 C56.28,348.82 57.57,348.92 58.00,349.10" fill="none" stroke="#bdbdbd" stroke-width="0.9" stroke-linejoin="round"/>
<path d="M26.00,349.10 C26.22,348.28 26.62,347.13 27.30,344.20 C27.98,341.27 29.03,336.03 30.10,331.50 C31.17,326.97 32.50,322.43 33.70,317.00 C34.90,311.57 36.25,304.65 37.30,298.90 C38.35,293.15 39.40,286.92 40.00,282.50 C40.60,278.08 40.75,274.08 40.90,272.40" fill="none" stroke="#b8b8b8" stroke-width="0.85" stroke-linejoin="round"/>
</g>
<line x1="23.3" y1="272.4" x2="23.3" y2="349.1" stroke="#d6d6d6" stroke-width="1.3"/>
<line x1="23.3" y1="272.4" x2="106.4" y2="272.4" stroke="#cdcdcd" stroke-width="1.1"/>
<line x1="106.4" y1="271.9" x2="106.4" y2="349.1" stroke="#a2a2a2" stroke-width="1.1"/>
<line x1="22.8" y1="349.1" x2="106.9" y2="349.1" stroke="#959595" stroke-width="1.1"/>
<path d="M29.6,349.6v1.1M33.2,349.6v1.1M35.8,349.6v1.1M37.8,349.6v1.1M39.5,349.6v1.1M40.9,349.6v1.1M42.1,349.6v1.1M43.1,349.6v1.1M44.1,349.6v1.6M50.3,349.6v1.1M54.0,349.6v1.1M56.6,349.6v1.1M58.6,349.6v1.1M60.2,349.6v1.1M61.6,349.6v1.1M62.8,349.6v1.1M63.9,349.6v1.1M64.9,349.6v1.6M71.1,349.6v1.1M74.8,349.6v1.1M77.4,349.6v1.1M79.4,349.6v1.1M81.0,349.6v1.1M82.4,349.6v1.1M83.6,349.6v1.1M84.7,349.6v1.1M85.6,349.6v1.6M91.9,349.6v1.1M95.5,349.6v1.1M98.1,349.6v1.1M100.1,349.6v1.1M101.8,349.6v1.1M103.2,349.6v1.1M104.4,349.6v1.1M105.4,349.6v1.1" stroke="#b0b0b0" stroke-width="0.6" fill="none"/>
<text x="42.0" y="355.7" class="tk">10<tspan dy="-2.4" dx="0.2" font-size="3.9">0</tspan></text>
<text x="61.9" y="355.7" class="tk">10<tspan dy="-2.4" dx="0.2" font-size="3.9">1</tspan></text>
<text x="82.1" y="355.7" class="tk">10<tspan dy="-2.4" dx="0.2" font-size="3.9">2</tspan></text>
<text x="95.9" y="355.7" class="tk">10<tspan dy="-2.4" dx="0.2" font-size="3.9">3</tspan></text>
<clipPath id="k42"><rect x="116.4" y="272.7" width="83.3" height="76.8"/></clipPath>
<g clip-path="url(#k42)">
<path d="M124.00,350.50 L124.00,349.50 C124.33,347.92 125.33,343.25 126.00,340.00 C126.67,336.75 127.33,333.67 128.00,330.00 C128.67,326.33 129.33,322.17 130.00,318.00 C130.67,313.83 131.33,309.33 132.00,305.00 C132.67,300.67 133.42,295.83 134.00,292.00 C134.58,288.17 134.97,284.18 135.50,282.00 C136.03,279.82 136.75,279.87 137.20,278.90 C137.65,277.93 137.73,276.50 138.20,276.20 C138.67,275.90 139.50,277.68 140.00,277.10 C140.50,276.52 140.82,272.85 141.20,272.70 C141.58,272.55 141.90,274.27 142.30,276.20 C142.70,278.13 143.08,281.43 143.60,284.30 C144.12,287.17 144.80,290.82 145.40,293.40 C146.00,295.98 146.75,298.43 147.20,299.80 C147.65,301.17 147.65,301.75 148.10,301.60 C148.55,301.45 149.35,300.27 149.90,298.90 C150.45,297.53 150.95,294.92 151.40,293.40 C151.85,291.88 152.23,291.02 152.60,289.80 C152.97,288.58 153.20,286.10 153.60,286.10 C154.00,286.10 154.55,288.58 155.00,289.80 C155.45,291.02 155.93,292.20 156.30,293.40 C156.67,294.60 156.90,295.18 157.20,297.00 C157.50,298.82 157.65,301.57 158.10,304.30 C158.55,307.03 159.30,310.38 159.90,313.40 C160.50,316.42 161.10,319.38 161.70,322.40 C162.30,325.42 162.90,328.77 163.50,331.50 C164.10,334.23 164.70,336.68 165.30,338.80 C165.90,340.92 166.50,342.68 167.10,344.20 C167.70,345.72 168.25,347.02 168.90,347.90 C169.55,348.78 170.65,349.23 171.00,349.50 L171.00,350.50 Z" fill="#838383" stroke="#555555" stroke-width="1.15" stroke-linejoin="round"/>
<path d="M116.50,350.50 L116.50,349.50 C116.75,348.67 117.10,348.65 118.00,344.50 C118.90,340.35 120.58,331.88 121.90,324.60 C123.22,317.32 124.73,308.75 125.90,300.80 C127.07,292.85 128.07,281.38 128.90,276.90 C129.73,272.42 130.47,274.60 130.90,273.90 C131.33,273.20 131.15,272.85 131.50,272.70 C131.85,272.55 132.50,272.45 133.00,273.00 C133.50,273.55 134.00,274.50 134.50,276.00 C135.00,277.50 135.70,279.40 136.00,282.00 C136.30,284.60 136.15,287.88 136.30,291.60 C136.45,295.32 136.58,300.37 136.90,304.30 C137.22,308.23 137.68,311.57 138.20,315.20 C138.72,318.83 139.40,322.77 140.00,326.10 C140.60,329.43 141.05,332.18 141.80,335.20 C142.55,338.22 143.60,342.08 144.50,344.20 C145.40,346.32 146.45,347.02 147.20,347.90 C147.95,348.78 148.70,349.23 149.00,349.50 L149.00,350.50 Z" fill="#fff" stroke="none"/>
<path d="M116.50,349.50 C116.75,348.67 117.10,348.65 118.00,344.50 C118.90,340.35 120.58,331.88 121.90,324.60 C123.22,317.32 124.73,308.75 125.90,300.80 C127.07,292.85 128.07,281.38 128.90,276.90 C129.73,272.42 130.47,274.60 130.90,273.90 C131.33,273.20 131.15,272.85 131.50,272.70 C131.85,272.55 132.50,272.45 133.00,273.00 C133.50,273.55 134.00,274.50 134.50,276.00 C135.00,277.50 135.70,279.40 136.00,282.00 C136.30,284.60 136.15,287.88 136.30,291.60 C136.45,295.32 136.58,300.37 136.90,304.30 C137.22,308.23 137.68,311.57 138.20,315.20 C138.72,318.83 139.40,322.77 140.00,326.10 C140.60,329.43 141.05,332.18 141.80,335.20 C142.55,338.22 143.60,342.08 144.50,344.20 C145.40,346.32 146.45,347.02 147.20,347.90 C147.95,348.78 148.70,349.23 149.00,349.50" fill="none" stroke="#bdbdbd" stroke-width="0.9" stroke-linejoin="round"/>
<path d="M124.00,349.50 C124.33,347.92 125.33,343.25 126.00,340.00 C126.67,336.75 127.33,333.67 128.00,330.00 C128.67,326.33 129.33,322.17 130.00,318.00 C130.67,313.83 131.33,309.33 132.00,305.00 C132.67,300.67 133.42,295.83 134.00,292.00 C134.58,288.17 134.97,284.18 135.50,282.00 C136.03,279.82 136.75,279.87 137.20,278.90 C137.65,277.93 137.73,276.50 138.20,276.20 C138.67,275.90 139.50,277.68 140.00,277.10 C140.50,276.52 141.00,273.43 141.20,272.70" fill="none" stroke="#b8b8b8" stroke-width="0.85" stroke-linejoin="round"/>
</g>
<line x1="116.4" y1="272.7" x2="116.4" y2="349.5" stroke="#d6d6d6" stroke-width="1.3"/>
<line x1="116.4" y1="272.7" x2="199.7" y2="272.7" stroke="#cdcdcd" stroke-width="1.1"/>
<line x1="199.7" y1="272.2" x2="199.7" y2="349.5" stroke="#a2a2a2" stroke-width="1.1"/>
<line x1="115.9" y1="349.5" x2="200.2" y2="349.5" stroke="#959595" stroke-width="1.1"/>
<path d="M122.7,350.0v1.1M126.3,350.0v1.1M128.9,350.0v1.1M131.0,350.0v1.1M132.6,350.0v1.1M134.0,350.0v1.1M135.2,350.0v1.1M136.3,350.0v1.1M137.2,350.0v1.6M143.5,350.0v1.1M147.2,350.0v1.1M149.8,350.0v1.1M151.8,350.0v1.1M153.4,350.0v1.1M154.8,350.0v1.1M156.0,350.0v1.1M157.1,350.0v1.1M158.1,350.0v1.6M164.3,350.0v1.1M168.0,350.0v1.1M170.6,350.0v1.1M172.6,350.0v1.1M174.3,350.0v1.1M175.6,350.0v1.1M176.9,350.0v1.1M177.9,350.0v1.1M178.9,350.0v1.6M185.1,350.0v1.1M188.8,350.0v1.1M191.4,350.0v1.1M193.4,350.0v1.1M195.1,350.0v1.1M196.5,350.0v1.1M197.7,350.0v1.1M198.7,350.0v1.1" stroke="#b0b0b0" stroke-width="0.6" fill="none"/>
<text x="135.1" y="356.1" class="tk">10<tspan dy="-2.4" dx="0.2" font-size="3.9">0</tspan></text>
<text x="155.0" y="356.1" class="tk">10<tspan dy="-2.4" dx="0.2" font-size="3.9">1</tspan></text>
<text x="175.2" y="356.1" class="tk">10<tspan dy="-2.4" dx="0.2" font-size="3.9">2</tspan></text>
<text x="189.2" y="356.1" class="tk">10<tspan dy="-2.4" dx="0.2" font-size="3.9">3</tspan></text>
<clipPath id="k43"><rect x="209.1" y="273.1" width="83.1" height="77.4"/></clipPath>
<g clip-path="url(#k43)">
<path d="M214.00,351.50 L214.00,350.50 C214.98,350.00 217.93,349.17 219.90,347.50 C221.87,345.83 224.03,343.75 225.80,340.50 C227.57,337.25 229.43,331.32 230.50,328.00 C231.57,324.68 231.75,323.33 232.20,320.60 C232.65,317.87 232.73,314.32 233.20,311.60 C233.67,308.88 234.40,306.42 235.00,304.30 C235.60,302.18 236.20,300.72 236.80,298.90 C237.40,297.08 238.00,294.92 238.60,293.40 C239.20,291.88 239.80,291.02 240.40,289.80 C241.00,288.58 241.60,287.02 242.20,286.10 C242.80,285.18 243.48,284.90 244.00,284.30 C244.52,283.70 244.90,283.40 245.30,282.50 C245.70,281.60 246.10,280.25 246.40,278.90 C246.70,277.55 246.80,274.10 247.10,274.40 C247.40,274.70 247.80,280.10 248.20,280.70 C248.60,281.30 248.98,278.75 249.50,278.00 C250.02,277.25 250.85,276.65 251.30,276.20 C251.75,275.75 251.90,275.00 252.20,275.30 C252.50,275.60 252.80,276.50 253.10,278.00 C253.40,279.50 253.70,282.03 254.00,284.30 C254.30,286.57 254.60,288.87 254.90,291.60 C255.20,294.33 255.35,297.07 255.80,300.70 C256.25,304.33 257.00,309.47 257.60,313.40 C258.20,317.33 258.80,320.98 259.40,324.30 C260.00,327.62 260.60,330.28 261.20,333.30 C261.80,336.32 262.38,339.97 263.00,342.40 C263.62,344.83 264.23,346.55 264.90,347.90 C265.57,349.25 266.65,350.07 267.00,350.50 L267.00,351.50 Z" fill="#838383" stroke="#555555" stroke-width="1.15" stroke-linejoin="round"/>
<path d="M209.50,351.50 L209.50,350.50 C209.73,349.83 210.17,350.15 210.90,346.50 C211.63,342.85 212.90,334.90 213.90,328.60 C214.90,322.30 215.90,315.32 216.90,308.70 C217.90,302.08 218.90,294.53 219.90,288.90 C220.90,283.27 222.07,277.40 222.90,274.90 C223.73,272.40 224.42,273.57 224.90,273.90 C225.38,274.23 225.32,274.40 225.80,276.90 C226.28,279.40 227.13,284.25 227.80,288.90 C228.47,293.55 229.20,300.17 229.80,304.80 C230.40,309.43 231.00,313.83 231.40,316.70 C231.80,319.57 231.90,319.83 232.20,322.00 C232.50,324.17 232.73,326.90 233.20,329.70 C233.67,332.50 234.40,336.38 235.00,338.80 C235.60,341.22 236.20,342.68 236.80,344.20 C237.40,345.72 237.98,346.85 238.60,347.90 C239.22,348.95 240.18,350.07 240.50,350.50 L240.50,351.50 Z" fill="#fff" stroke="none"/>
<path d="M209.50,350.50 C209.73,349.83 210.17,350.15 210.90,346.50 C211.63,342.85 212.90,334.90 213.90,328.60 C214.90,322.30 215.90,315.32 216.90,308.70 C217.90,302.08 218.90,294.53 219.90,288.90 C220.90,283.27 222.07,277.40 222.90,274.90 C223.73,272.40 224.42,273.57 224.90,273.90 C225.38,274.23 225.32,274.40 225.80,276.90 C226.28,279.40 227.13,284.25 227.80,288.90 C228.47,293.55 229.20,300.17 229.80,304.80 C230.40,309.43 231.00,313.83 231.40,316.70 C231.80,319.57 231.90,319.83 232.20,322.00 C232.50,324.17 232.73,326.90 233.20,329.70 C233.67,332.50 234.40,336.38 235.00,338.80 C235.60,341.22 236.20,342.68 236.80,344.20 C237.40,345.72 237.98,346.85 238.60,347.90 C239.22,348.95 240.18,350.07 240.50,350.50" fill="none" stroke="#bdbdbd" stroke-width="0.9" stroke-linejoin="round"/>
<path d="M214.00,350.50 C214.98,350.00 217.93,349.17 219.90,347.50 C221.87,345.83 224.03,343.75 225.80,340.50 C227.57,337.25 229.43,331.32 230.50,328.00 C231.57,324.68 231.75,323.33 232.20,320.60 C232.65,317.87 232.73,314.32 233.20,311.60 C233.67,308.88 234.40,306.42 235.00,304.30 C235.60,302.18 236.20,300.72 236.80,298.90 C237.40,297.08 238.00,294.92 238.60,293.40 C239.20,291.88 239.80,291.02 240.40,289.80 C241.00,288.58 241.60,287.02 242.20,286.10 C242.80,285.18 243.48,284.90 244.00,284.30 C244.52,283.70 244.90,283.40 245.30,282.50 C245.70,281.60 246.10,280.25 246.40,278.90 C246.70,277.55 246.98,275.15 247.10,274.40" fill="none" stroke="#b8b8b8" stroke-width="0.85" stroke-linejoin="round"/>
</g>
<line x1="209.1" y1="273.1" x2="209.1" y2="350.5" stroke="#d6d6d6" stroke-width="1.3"/>
<line x1="209.1" y1="273.1" x2="292.2" y2="273.1" stroke="#cdcdcd" stroke-width="1.1"/>
<line x1="292.2" y1="272.6" x2="292.2" y2="350.5" stroke="#a2a2a2" stroke-width="1.1"/>
<line x1="208.6" y1="350.5" x2="292.7" y2="350.5" stroke="#959595" stroke-width="1.1"/>
<path d="M215.4,351.0v1.1M219.0,351.0v1.1M221.6,351.0v1.1M223.6,351.0v1.1M225.3,351.0v1.1M226.7,351.0v1.1M227.9,351.0v1.1M228.9,351.0v1.1M229.9,351.0v1.6M236.1,351.0v1.1M239.8,351.0v1.1M242.4,351.0v1.1M244.4,351.0v1.1M246.0,351.0v1.1M247.4,351.0v1.1M248.6,351.0v1.1M249.7,351.0v1.1M250.6,351.0v1.6M256.9,351.0v1.1M260.6,351.0v1.1M263.2,351.0v1.1M265.2,351.0v1.1M266.8,351.0v1.1M268.2,351.0v1.1M269.4,351.0v1.1M270.5,351.0v1.1M271.4,351.0v1.6M277.7,351.0v1.1M281.3,351.0v1.1M283.9,351.0v1.1M285.9,351.0v1.1M287.6,351.0v1.1M289.0,351.0v1.1M290.2,351.0v1.1M291.2,351.0v1.1" stroke="#b0b0b0" stroke-width="0.6" fill="none"/>
<text x="227.8" y="357.1" class="tk">10<tspan dy="-2.4" dx="0.2" font-size="3.9">0</tspan></text>
<text x="247.7" y="357.1" class="tk">10<tspan dy="-2.4" dx="0.2" font-size="3.9">1</tspan></text>
<text x="267.9" y="357.1" class="tk">10<tspan dy="-2.4" dx="0.2" font-size="3.9">2</tspan></text>
<text x="281.7" y="357.1" class="tk">10<tspan dy="-2.4" dx="0.2" font-size="3.9">3</tspan></text>
<clipPath id="k44"><rect x="301.2" y="273.6" width="83.2" height="77.5"/></clipPath>
<g clip-path="url(#k44)">
<path d="M302.50,352.10 L302.50,351.10 C302.53,350.83 302.05,351.97 302.70,349.50 C303.35,347.03 305.13,341.33 306.40,336.30 C307.67,331.27 309.03,324.97 310.30,319.30 C311.57,313.63 312.92,307.65 314.00,302.30 C315.08,296.95 316.00,291.60 316.80,287.20 C317.60,282.80 318.27,278.17 318.80,275.90 C319.33,273.63 319.58,273.93 320.00,273.60 C320.42,273.27 320.88,272.92 321.30,273.90 C321.72,274.88 321.97,276.05 322.50,279.50 C323.03,282.95 323.85,289.57 324.50,294.60 C325.15,299.63 325.78,304.98 326.40,309.70 C327.02,314.42 327.58,318.82 328.20,322.90 C328.82,326.98 329.47,331.05 330.10,334.20 C330.73,337.35 331.22,339.60 332.00,341.80 C332.78,344.00 333.72,345.97 334.80,347.40 C335.88,348.83 337.13,349.78 338.50,350.40 C339.87,351.02 342.25,350.98 343.00,351.10 L343.00,352.10 Z" fill="#838383" stroke="#555555" stroke-width="1.6" stroke-linejoin="round"/>
<path d="M301.30,352.10 L301.30,350.00 C301.38,348.63 301.25,345.37 301.80,341.80 C302.35,338.23 303.65,333.32 304.60,328.60 C305.55,323.88 306.55,318.52 307.50,313.50 C308.45,308.48 309.37,303.53 310.30,298.50 C311.23,293.47 312.32,287.40 313.10,283.30 C313.88,279.20 314.35,275.52 315.00,273.90 C315.65,272.28 316.37,273.60 317.00,273.60 C317.63,273.60 318.35,271.98 318.80,273.90 C319.25,275.82 319.28,280.07 319.70,285.10 C320.12,290.13 320.73,298.42 321.30,304.10 C321.87,309.78 322.48,314.48 323.10,319.20 C323.72,323.92 324.30,328.63 325.00,332.40 C325.70,336.17 326.45,339.30 327.30,341.80 C328.15,344.30 329.02,345.97 330.10,347.40 C331.18,348.83 332.82,349.78 333.80,350.40 C334.78,351.02 335.63,350.98 336.00,351.10 L336.00,352.10 Z" fill="#fff" stroke="none"/>
<path d="M301.30,350.00 C301.38,348.63 301.25,345.37 301.80,341.80 C302.35,338.23 303.65,333.32 304.60,328.60 C305.55,323.88 306.55,318.52 307.50,313.50 C308.45,308.48 309.37,303.53 310.30,298.50 C311.23,293.47 312.32,287.40 313.10,283.30 C313.88,279.20 314.35,275.52 315.00,273.90 C315.65,272.28 316.37,273.60 317.00,273.60 C317.63,273.60 318.35,271.98 318.80,273.90 C319.25,275.82 319.28,280.07 319.70,285.10 C320.12,290.13 320.73,298.42 321.30,304.10 C321.87,309.78 322.48,314.48 323.10,319.20 C323.72,323.92 324.30,328.63 325.00,332.40 C325.70,336.17 326.45,339.30 327.30,341.80 C328.15,344.30 329.02,345.97 330.10,347.40 C331.18,348.83 332.82,349.78 333.80,350.40 C334.78,351.02 335.63,350.98 336.00,351.10" fill="none" stroke="#bdbdbd" stroke-width="0.9" stroke-linejoin="round"/>
<path d="M302.50,351.10 C302.53,350.83 302.05,351.97 302.70,349.50 C303.35,347.03 305.13,341.33 306.40,336.30 C307.67,331.27 309.03,324.97 310.30,319.30 C311.57,313.63 312.92,307.65 314.00,302.30 C315.08,296.95 316.00,291.60 316.80,287.20 C317.60,282.80 318.27,278.17 318.80,275.90 C319.33,273.63 319.80,273.98 320.00,273.60" fill="none" stroke="#b8b8b8" stroke-width="0.85" stroke-linejoin="round"/>
</g>
<line x1="301.2" y1="273.6" x2="301.2" y2="351.1" stroke="#d6d6d6" stroke-width="1.3"/>
<line x1="301.2" y1="273.6" x2="384.4" y2="273.6" stroke="#cdcdcd" stroke-width="1.1"/>
<line x1="384.4" y1="273.1" x2="384.4" y2="351.1" stroke="#a2a2a2" stroke-width="1.1"/>
<line x1="300.7" y1="351.1" x2="384.9" y2="351.1" stroke="#959595" stroke-width="1.1"/>
<path d="M307.5,351.6v1.1M311.1,351.6v1.1M313.7,351.6v1.1M315.7,351.6v1.1M317.4,351.6v1.1M318.8,351.6v1.1M320.0,351.6v1.1M321.0,351.6v1.1M322.0,351.6v1.6M328.3,351.6v1.1M331.9,351.6v1.1M334.5,351.6v1.1M336.5,351.6v1.1M338.2,351.6v1.1M339.6,351.6v1.1M340.8,351.6v1.1M341.8,351.6v1.1M342.8,351.6v1.6M349.1,351.6v1.1M352.7,351.6v1.1M355.3,351.6v1.1M357.3,351.6v1.1M359.0,351.6v1.1M360.4,351.6v1.1M361.6,351.6v1.1M362.6,351.6v1.1M363.6,351.6v1.6M369.9,351.6v1.1M373.5,351.6v1.1M376.1,351.6v1.1M378.1,351.6v1.1M379.8,351.6v1.1M381.2,351.6v1.1M382.4,351.6v1.1M383.4,351.6v1.1" stroke="#b0b0b0" stroke-width="0.6" fill="none"/>
<text x="319.9" y="357.7" class="tk">10<tspan dy="-2.4" dx="0.2" font-size="3.9">0</tspan></text>
<text x="339.8" y="357.7" class="tk">10<tspan dy="-2.4" dx="0.2" font-size="3.9">1</tspan></text>
<text x="360.0" y="357.7" class="tk">10<tspan dy="-2.4" dx="0.2" font-size="3.9">2</tspan></text>
<text x="373.9" y="357.7" class="tk">10<tspan dy="-2.4" dx="0.2" font-size="3.9">3</tspan></text>
<clipPath id="k45"><rect x="394.0" y="273.6" width="83.4" height="77.1"/></clipPath>
<g clip-path="url(#k45)">
<path d="M396.00,351.70 L396.00,350.70 C396.47,350.33 396.98,351.57 398.80,348.50 C400.62,345.43 404.95,337.38 406.90,332.30 C408.85,327.22 409.48,323.38 410.50,318.00 C411.52,312.62 412.37,305.33 413.00,300.00 C413.63,294.67 413.82,290.10 414.30,286.00 C414.78,281.90 415.42,277.43 415.90,275.40 C416.38,273.37 416.75,273.95 417.20,273.80 C417.65,273.65 418.05,273.32 418.60,274.50 C419.15,275.68 419.88,278.63 420.50,280.90 C421.12,283.17 421.70,285.38 422.30,288.10 C422.90,290.82 423.50,294.17 424.10,297.20 C424.70,300.23 425.30,303.57 425.90,306.30 C426.50,309.03 427.10,311.18 427.70,313.60 C428.30,316.02 428.73,318.38 429.50,320.80 C430.27,323.22 431.53,325.98 432.30,328.10 C433.07,330.22 433.50,331.68 434.10,333.50 C434.70,335.32 435.15,337.18 435.90,339.00 C436.65,340.82 437.38,342.90 438.60,344.40 C439.82,345.90 441.80,347.08 443.20,348.00 C444.60,348.92 445.53,349.45 447.00,349.90 C448.47,350.35 451.17,350.57 452.00,350.70 L452.00,351.70 Z" fill="#838383" stroke="#555555" stroke-width="1.15" stroke-linejoin="round"/>
<path d="M394.20,351.70 L394.20,350.50 C394.43,349.72 394.83,348.83 395.60,345.80 C396.37,342.77 397.58,339.03 398.80,332.30 C400.02,325.57 401.77,313.03 402.90,305.40 C404.03,297.77 404.80,291.65 405.60,286.50 C406.40,281.35 407.13,276.58 407.70,274.50 C408.27,272.42 408.53,274.00 409.00,274.00 C409.47,274.00 409.95,273.05 410.50,274.50 C411.05,275.95 411.78,280.12 412.30,282.70 C412.82,285.28 413.30,287.95 413.60,290.00 C413.90,292.05 413.87,292.28 414.10,295.00 C414.33,297.72 414.55,302.60 415.00,306.30 C415.45,310.00 416.20,313.57 416.80,317.20 C417.40,320.83 417.83,324.77 418.60,328.10 C419.37,331.43 420.33,334.48 421.40,337.20 C422.47,339.92 423.65,342.52 425.00,344.40 C426.35,346.28 427.68,347.45 429.50,348.50 C431.32,349.55 434.83,350.33 435.90,350.70 L435.90,351.70 Z" fill="#fff" stroke="none"/>
<path d="M394.20,350.50 C394.43,349.72 394.83,348.83 395.60,345.80 C396.37,342.77 397.58,339.03 398.80,332.30 C400.02,325.57 401.77,313.03 402.90,305.40 C404.03,297.77 404.80,291.65 405.60,286.50 C406.40,281.35 407.13,276.58 407.70,274.50 C408.27,272.42 408.53,274.00 409.00,274.00 C409.47,274.00 409.95,273.05 410.50,274.50 C411.05,275.95 411.78,280.12 412.30,282.70 C412.82,285.28 413.30,287.95 413.60,290.00 C413.90,292.05 413.87,292.28 414.10,295.00 C414.33,297.72 414.55,302.60 415.00,306.30 C415.45,310.00 416.20,313.57 416.80,317.20 C417.40,320.83 417.83,324.77 418.60,328.10 C419.37,331.43 420.33,334.48 421.40,337.20 C422.47,339.92 423.65,342.52 425.00,344.40 C426.35,346.28 427.68,347.45 429.50,348.50 C431.32,349.55 434.83,350.33 435.90,350.70" fill="none" stroke="#bdbdbd" stroke-width="0.9" stroke-linejoin="round"/>
<path d="M396.00,350.70 C396.47,350.33 396.98,351.57 398.80,348.50 C400.62,345.43 404.95,337.38 406.90,332.30 C408.85,327.22 409.48,323.38 410.50,318.00 C411.52,312.62 412.37,305.33 413.00,300.00 C413.63,294.67 413.82,290.10 414.30,286.00 C414.78,281.90 415.42,277.43 415.90,275.40 C416.38,273.37 416.98,274.07 417.20,273.80" fill="none" stroke="#b8b8b8" stroke-width="0.85" stroke-linejoin="round"/>
</g>
<line x1="394.0" y1="273.6" x2="394.0" y2="350.7" stroke="#d6d6d6" stroke-width="1.3"/>
<line x1="394.0" y1="273.6" x2="477.4" y2="273.6" stroke="#cdcdcd" stroke-width="1.1"/>
<line x1="477.4" y1="273.1" x2="477.4" y2="350.7" stroke="#a2a2a2" stroke-width="1.1"/>
<line x1="393.5" y1="350.7" x2="477.9" y2="350.7" stroke="#959595" stroke-width="1.1"/>
<path d="M400.3,351.2v1.1M403.9,351.2v1.1M406.6,351.2v1.1M408.6,351.2v1.1M410.2,351.2v1.1M411.6,351.2v1.1M412.8,351.2v1.1M413.9,351.2v1.1M414.9,351.2v1.6M421.1,351.2v1.1M424.8,351.2v1.1M427.4,351.2v1.1M429.4,351.2v1.1M431.1,351.2v1.1M432.5,351.2v1.1M433.7,351.2v1.1M434.7,351.2v1.1M435.7,351.2v1.6M442.0,351.2v1.1M445.6,351.2v1.1M448.3,351.2v1.1M450.3,351.2v1.1M451.9,351.2v1.1M453.3,351.2v1.1M454.5,351.2v1.1M455.6,351.2v1.1M456.5,351.2v1.6M462.8,351.2v1.1M466.5,351.2v1.1M469.1,351.2v1.1M471.1,351.2v1.1M472.8,351.2v1.1M474.2,351.2v1.1M475.4,351.2v1.1M476.4,351.2v1.1" stroke="#b0b0b0" stroke-width="0.6" fill="none"/>
<text x="412.7" y="357.3" class="tk">10<tspan dy="-2.4" dx="0.2" font-size="3.9">0</tspan></text>
<text x="432.6" y="357.3" class="tk">10<tspan dy="-2.4" dx="0.2" font-size="3.9">1</tspan></text>
<text x="452.8" y="357.3" class="tk">10<tspan dy="-2.4" dx="0.2" font-size="3.9">2</tspan></text>
<text x="466.9" y="357.3" class="tk">10<tspan dy="-2.4" dx="0.2" font-size="3.9">3</tspan></text>
<clipPath id="k51"><rect x="23.5" y="361.4" width="82.9" height="76.8"/></clipPath>
<g clip-path="url(#k51)">
<path d="M24.00,439.20 L24.00,438.20 C24.10,438.00 23.90,437.67 24.60,437.00 C25.30,436.33 26.98,435.42 28.20,434.20 C29.42,432.98 30.83,431.20 31.90,429.70 C32.97,428.20 33.70,426.87 34.60,425.20 C35.50,423.53 36.40,421.22 37.30,419.70 C38.20,418.18 39.10,417.62 40.00,416.10 C40.90,414.58 41.93,411.22 42.70,410.60 C43.47,409.98 43.98,411.48 44.60,412.40 C45.22,413.32 45.80,414.73 46.40,416.10 C47.00,417.47 47.60,419.25 48.20,420.60 C48.80,421.95 49.25,422.98 50.00,424.20 C50.75,425.42 51.95,427.58 52.70,427.90 C53.45,428.22 53.90,426.72 54.50,426.10 C55.10,425.48 55.70,424.97 56.30,424.20 C56.90,423.43 57.48,422.40 58.10,421.50 C58.72,420.60 59.08,419.70 60.00,418.80 C60.92,417.90 62.40,417.17 63.60,416.10 C64.80,415.03 66.13,413.92 67.20,412.40 C68.27,410.88 69.08,408.80 70.00,407.00 C70.92,405.20 71.80,403.72 72.70,401.60 C73.60,399.48 74.65,396.42 75.40,394.30 C76.15,392.18 76.60,391.02 77.20,388.90 C77.80,386.78 78.48,383.88 79.00,381.60 C79.52,379.32 79.85,376.87 80.30,375.20 C80.75,373.53 81.15,372.65 81.70,371.60 C82.25,370.55 83.13,370.27 83.60,368.90 C84.07,367.53 84.20,362.80 84.50,363.40 C84.80,364.00 84.95,370.68 85.40,372.50 C85.85,374.32 86.60,374.90 87.20,374.30 C87.80,373.70 88.55,370.72 89.00,368.90 C89.45,367.08 89.53,364.62 89.90,363.40 C90.27,362.18 90.82,361.28 91.20,361.60 C91.58,361.92 91.90,365.30 92.20,365.30 C92.50,365.30 92.68,361.00 93.00,361.60 C93.32,362.20 93.80,366.48 94.10,368.90 C94.40,371.32 94.60,373.38 94.80,376.10 C95.00,378.82 95.07,381.57 95.30,385.20 C95.53,388.83 95.90,393.67 96.20,397.90 C96.50,402.13 96.80,406.97 97.10,410.60 C97.40,414.23 97.68,416.97 98.00,419.70 C98.32,422.43 98.53,424.58 99.00,427.00 C99.47,429.42 100.20,432.38 100.80,434.20 C101.40,436.02 102.07,437.23 102.60,437.90 C103.13,438.57 103.77,438.15 104.00,438.20 L104.00,439.20 Z" fill="#838383" stroke="#555555" stroke-width="1.15" stroke-linejoin="round"/>
<path d="M23.60,439.20 L23.60,438.20 C23.62,438.15 23.38,439.77 23.70,437.90 C24.02,436.03 24.75,431.85 25.50,427.00 C26.25,422.15 27.28,415.77 28.20,408.80 C29.12,401.83 30.23,391.85 31.00,385.20 C31.77,378.55 32.30,372.83 32.80,368.90 C33.30,364.97 33.60,362.85 34.00,361.60 C34.40,360.35 34.80,361.40 35.20,361.40 C35.60,361.40 36.05,360.65 36.40,361.60 C36.75,362.55 36.85,364.07 37.30,367.10 C37.75,370.13 38.50,375.27 39.10,379.80 C39.70,384.33 40.35,389.77 40.90,394.30 C41.45,398.83 41.95,403.07 42.40,407.00 C42.85,410.93 43.08,414.57 43.60,417.90 C44.12,421.23 44.73,424.28 45.50,427.00 C46.27,429.72 47.45,432.38 48.20,434.20 C48.95,436.02 49.37,437.23 50.00,437.90 C50.63,438.57 51.67,438.15 52.00,438.20 L52.00,439.20 Z" fill="#fff" stroke="none"/>
<path d="M23.60,438.20 C23.62,438.15 23.38,439.77 23.70,437.90 C24.02,436.03 24.75,431.85 25.50,427.00 C26.25,422.15 27.28,415.77 28.20,408.80 C29.12,401.83 30.23,391.85 31.00,385.20 C31.77,378.55 32.30,372.83 32.80,368.90 C33.30,364.97 33.60,362.85 34.00,361.60 C34.40,360.35 34.80,361.40 35.20,361.40 C35.60,361.40 36.05,360.65 36.40,361.60 C36.75,362.55 36.85,364.07 37.30,367.10 C37.75,370.13 38.50,375.27 39.10,379.80 C39.70,384.33 40.35,389.77 40.90,394.30 C41.45,398.83 41.95,403.07 42.40,407.00 C42.85,410.93 43.08,414.57 43.60,417.90 C44.12,421.23 44.73,424.28 45.50,427.00 C46.27,429.72 47.45,432.38 48.20,434.20 C48.95,436.02 49.37,437.23 50.00,437.90 C50.63,438.57 51.67,438.15 52.00,438.20" fill="none" stroke="#bdbdbd" stroke-width="0.9" stroke-linejoin="round"/>
<path d="M24.00,438.20 C24.10,438.00 23.90,437.67 24.60,437.00 C25.30,436.33 26.98,435.42 28.20,434.20 C29.42,432.98 30.83,431.20 31.90,429.70 C32.97,428.20 33.70,426.87 34.60,425.20 C35.50,423.53 36.40,421.22 37.30,419.70 C38.20,418.18 39.10,417.62 40.00,416.10 C40.90,414.58 42.25,411.52 42.70,410.60" fill="none" stroke="#b8b8b8" stroke-width="0.85" stroke-linejoin="round"/>
</g>
<line x1="23.5" y1="361.4" x2="23.5" y2="438.2" stroke="#d6d6d6" stroke-width="1.3"/>
<line x1="23.5" y1="361.4" x2="106.4" y2="361.4" stroke="#cdcdcd" stroke-width="1.1"/>
<line x1="106.4" y1="360.9" x2="106.4" y2="438.2" stroke="#a2a2a2" stroke-width="1.1"/>
<line x1="23.0" y1="438.2" x2="106.9" y2="438.2" stroke="#959595" stroke-width="1.1"/>
<path d="M29.7,438.7v1.1M33.4,438.7v1.1M36.0,438.7v1.1M38.0,438.7v1.1M39.6,438.7v1.1M41.0,438.7v1.1M42.2,438.7v1.1M43.3,438.7v1.1M44.2,438.7v1.6M50.5,438.7v1.1M54.1,438.7v1.1M56.7,438.7v1.1M58.7,438.7v1.1M60.4,438.7v1.1M61.7,438.7v1.1M62.9,438.7v1.1M64.0,438.7v1.1M65.0,438.7v1.6M71.2,438.7v1.1M74.8,438.7v1.1M77.4,438.7v1.1M79.4,438.7v1.1M81.1,438.7v1.1M82.5,438.7v1.1M83.7,438.7v1.1M84.7,438.7v1.1M85.7,438.7v1.6M91.9,438.7v1.1M95.6,438.7v1.1M98.2,438.7v1.1M100.2,438.7v1.1M101.8,438.7v1.1M103.2,438.7v1.1M104.4,438.7v1.1M105.5,438.7v1.1" stroke="#b0b0b0" stroke-width="0.6" fill="none"/>
<text x="42.2" y="444.8" class="tk">10<tspan dy="-2.4" dx="0.2" font-size="3.9">0</tspan></text>
<text x="62.1" y="444.8" class="tk">10<tspan dy="-2.4" dx="0.2" font-size="3.9">1</tspan></text>
<text x="82.3" y="444.8" class="tk">10<tspan dy="-2.4" dx="0.2" font-size="3.9">2</tspan></text>
<text x="95.9" y="444.8" class="tk">10<tspan dy="-2.4" dx="0.2" font-size="3.9">3</tspan></text>
<clipPath id="k52"><rect x="114.6" y="361.2" width="82.9" height="76.9"/></clipPath>
<g clip-path="url(#k52)">
<path d="M116.00,439.10 L116.00,438.10 C116.33,437.83 116.85,437.10 118.00,436.50 C119.15,435.90 121.25,435.82 122.90,434.50 C124.55,433.18 126.40,431.25 127.90,428.60 C129.40,425.95 130.87,421.90 131.90,418.60 C132.93,415.30 133.68,411.33 134.10,408.80 C134.52,406.27 134.10,405.82 134.40,403.40 C134.70,400.98 135.42,397.33 135.90,394.30 C136.38,391.27 136.85,388.23 137.30,385.20 C137.75,382.17 138.08,379.12 138.60,376.10 C139.12,373.08 139.95,369.05 140.40,367.10 C140.85,365.15 140.98,365.17 141.30,364.40 C141.62,363.63 142.00,363.00 142.30,362.50 C142.60,362.00 142.82,361.25 143.10,361.40 C143.38,361.55 143.70,362.75 144.00,363.40 C144.30,364.05 144.50,364.68 144.90,365.30 C145.30,365.92 145.95,365.90 146.40,367.10 C146.85,368.30 147.23,370.38 147.60,372.50 C147.97,374.62 148.20,377.07 148.60,379.80 C149.00,382.53 149.55,385.88 150.00,388.90 C150.45,391.92 150.78,394.58 151.30,397.90 C151.82,401.22 152.50,405.47 153.10,408.80 C153.70,412.13 154.30,414.87 154.90,417.90 C155.50,420.93 156.10,424.28 156.70,427.00 C157.30,429.72 157.75,432.55 158.50,434.20 C159.25,435.85 160.13,436.25 161.20,436.90 C162.27,437.55 164.28,437.90 164.90,438.10 L164.90,439.10 Z" fill="#838383" stroke="#555555" stroke-width="1.15" stroke-linejoin="round"/>
<path d="M115.00,439.10 L115.00,438.00 C115.17,436.10 115.35,431.15 116.00,426.60 C116.65,422.05 117.92,416.67 118.90,410.70 C119.88,404.73 120.90,397.43 121.90,390.80 C122.90,384.17 124.07,375.38 124.90,370.90 C125.73,366.42 126.40,364.90 126.90,363.90 C127.40,362.90 127.57,363.73 127.90,364.90 C128.23,366.07 128.23,366.58 128.90,370.90 C129.57,375.22 131.07,384.83 131.90,390.80 C132.73,396.77 133.40,402.73 133.90,406.70 C134.40,410.67 134.42,411.95 134.90,414.60 C135.38,417.25 135.98,419.95 136.80,422.60 C137.62,425.25 138.63,428.52 139.80,430.50 C140.97,432.48 142.13,433.50 143.80,434.50 C145.47,435.50 147.48,435.90 149.80,436.50 C152.12,437.10 156.38,437.83 157.70,438.10 L157.70,439.10 Z" fill="#fff" stroke="none"/>
<path d="M115.00,438.00 C115.17,436.10 115.35,431.15 116.00,426.60 C116.65,422.05 117.92,416.67 118.90,410.70 C119.88,404.73 120.90,397.43 121.90,390.80 C122.90,384.17 124.07,375.38 124.90,370.90 C125.73,366.42 126.40,364.90 126.90,363.90 C127.40,362.90 127.57,363.73 127.90,364.90 C128.23,366.07 128.23,366.58 128.90,370.90 C129.57,375.22 131.07,384.83 131.90,390.80 C132.73,396.77 133.40,402.73 133.90,406.70 C134.40,410.67 134.42,411.95 134.90,414.60 C135.38,417.25 135.98,419.95 136.80,422.60 C137.62,425.25 138.63,428.52 139.80,430.50 C140.97,432.48 142.13,433.50 143.80,434.50 C145.47,435.50 147.48,435.90 149.80,436.50 C152.12,437.10 156.38,437.83 157.70,438.10" fill="none" stroke="#bdbdbd" stroke-width="0.9" stroke-linejoin="round"/>
<path d="M116.00,438.10 C116.33,437.83 116.85,437.10 118.00,436.50 C119.15,435.90 121.25,435.82 122.90,434.50 C124.55,433.18 126.40,431.25 127.90,428.60 C129.40,425.95 130.87,421.90 131.90,418.60 C132.93,415.30 133.68,411.33 134.10,408.80 C134.52,406.27 134.10,405.82 134.40,403.40 C134.70,400.98 135.42,397.33 135.90,394.30 C136.38,391.27 136.85,388.23 137.30,385.20 C137.75,382.17 138.08,379.12 138.60,376.10 C139.12,373.08 139.95,369.05 140.40,367.10 C140.85,365.15 140.98,365.17 141.30,364.40 C141.62,363.63 142.00,363.00 142.30,362.50 C142.60,362.00 142.97,361.58 143.10,361.40" fill="none" stroke="#b8b8b8" stroke-width="0.85" stroke-linejoin="round"/>
</g>
<line x1="114.6" y1="361.2" x2="114.6" y2="438.1" stroke="#d6d6d6" stroke-width="1.3"/>
<line x1="114.6" y1="361.2" x2="197.5" y2="361.2" stroke="#cdcdcd" stroke-width="1.1"/>
<line x1="197.5" y1="360.7" x2="197.5" y2="438.1" stroke="#a2a2a2" stroke-width="1.1"/>
<line x1="114.1" y1="438.1" x2="198.0" y2="438.1" stroke="#959595" stroke-width="1.1"/>
<path d="M120.8,438.6v1.1M124.5,438.6v1.1M127.1,438.6v1.1M129.1,438.6v1.1M130.7,438.6v1.1M132.1,438.6v1.1M133.3,438.6v1.1M134.4,438.6v1.1M135.3,438.6v1.6M141.6,438.6v1.1M145.2,438.6v1.1M147.8,438.6v1.1M149.8,438.6v1.1M151.5,438.6v1.1M152.8,438.6v1.1M154.0,438.6v1.1M155.1,438.6v1.1M156.1,438.6v1.6M162.3,438.6v1.1M165.9,438.6v1.1M168.5,438.6v1.1M170.5,438.6v1.1M172.2,438.6v1.1M173.6,438.6v1.1M174.8,438.6v1.1M175.8,438.6v1.1M176.8,438.6v1.6M183.0,438.6v1.1M186.7,438.6v1.1M189.3,438.6v1.1M191.3,438.6v1.1M192.9,438.6v1.1M194.3,438.6v1.1M195.5,438.6v1.1M196.6,438.6v1.1" stroke="#b0b0b0" stroke-width="0.6" fill="none"/>
<text x="133.3" y="444.7" class="tk">10<tspan dy="-2.4" dx="0.2" font-size="3.9">0</tspan></text>
<text x="153.2" y="444.7" class="tk">10<tspan dy="-2.4" dx="0.2" font-size="3.9">1</tspan></text>
<text x="173.4" y="444.7" class="tk">10<tspan dy="-2.4" dx="0.2" font-size="3.9">2</tspan></text>
<text x="187.0" y="444.7" class="tk">10<tspan dy="-2.4" dx="0.2" font-size="3.9">3</tspan></text>
<clipPath id="k53"><rect x="209.1" y="363.1" width="83.3" height="76.6"/></clipPath>
<g clip-path="url(#k53)">
<path d="M212.00,440.70 L212.00,439.70 C212.48,439.50 212.92,439.03 214.90,438.50 C216.88,437.97 221.42,437.50 223.90,436.50 C226.38,435.50 228.25,434.08 229.80,432.50 C231.35,430.92 232.33,428.83 233.20,427.00 C234.07,425.17 234.40,423.32 235.00,421.50 C235.60,419.68 236.20,417.92 236.80,416.10 C237.40,414.28 238.00,412.72 238.60,410.60 C239.20,408.48 239.80,406.12 240.40,403.40 C241.00,400.68 241.60,397.03 242.20,394.30 C242.80,391.57 243.40,389.42 244.00,387.00 C244.60,384.58 245.35,381.92 245.80,379.80 C246.25,377.68 246.23,376.42 246.70,374.30 C247.17,372.18 248.05,368.92 248.60,367.10 C249.15,365.28 249.55,364.17 250.00,363.40 C250.45,362.63 250.93,362.47 251.30,362.50 C251.67,362.53 251.90,363.28 252.20,363.60 C252.50,363.92 252.80,363.52 253.10,364.40 C253.40,365.28 253.55,366.95 254.00,368.90 C254.45,370.85 255.20,373.08 255.80,376.10 C256.40,379.12 257.00,383.07 257.60,387.00 C258.20,390.93 258.80,395.47 259.40,399.70 C260.00,403.93 260.60,408.15 261.20,412.40 C261.80,416.65 262.55,421.87 263.00,425.20 C263.45,428.53 263.43,430.28 263.90,432.40 C264.37,434.52 265.12,436.68 265.80,437.90 C266.48,439.12 267.63,439.40 268.00,439.70 L268.00,440.70 Z" fill="#838383" stroke="#555555" stroke-width="1.15" stroke-linejoin="round"/>
<path d="M209.50,440.70 L209.50,439.00 C209.73,437.58 210.17,435.22 210.90,430.50 C211.63,425.78 212.90,417.65 213.90,410.70 C214.90,403.75 215.90,395.43 216.90,388.80 C217.90,382.17 219.07,375.05 219.90,370.90 C220.73,366.75 221.40,364.57 221.90,363.90 C222.40,363.23 222.57,365.73 222.90,366.90 C223.23,368.07 223.42,367.92 223.90,370.90 C224.38,373.88 225.15,379.83 225.80,384.80 C226.45,389.77 227.13,395.73 227.80,400.70 C228.47,405.67 229.13,410.72 229.80,414.60 C230.47,418.48 231.23,421.68 231.80,424.00 C232.37,426.32 232.67,427.10 233.20,428.50 C233.73,429.90 234.25,430.83 235.00,432.40 C235.75,433.97 236.87,436.68 237.70,437.90 C238.53,439.12 239.62,439.40 240.00,439.70 L240.00,440.70 Z" fill="#fff" stroke="none"/>
<path d="M209.50,439.00 C209.73,437.58 210.17,435.22 210.90,430.50 C211.63,425.78 212.90,417.65 213.90,410.70 C214.90,403.75 215.90,395.43 216.90,388.80 C217.90,382.17 219.07,375.05 219.90,370.90 C220.73,366.75 221.40,364.57 221.90,363.90 C222.40,363.23 222.57,365.73 222.90,366.90 C223.23,368.07 223.42,367.92 223.90,370.90 C224.38,373.88 225.15,379.83 225.80,384.80 C226.45,389.77 227.13,395.73 227.80,400.70 C228.47,405.67 229.13,410.72 229.80,414.60 C230.47,418.48 231.23,421.68 231.80,424.00 C232.37,426.32 232.67,427.10 233.20,428.50 C233.73,429.90 234.25,430.83 235.00,432.40 C235.75,433.97 236.87,436.68 237.70,437.90 C238.53,439.12 239.62,439.40 240.00,439.70" fill="none" stroke="#bdbdbd" stroke-width="0.9" stroke-linejoin="round"/>
<path d="M212.00,439.70 C212.48,439.50 212.92,439.03 214.90,438.50 C216.88,437.97 221.42,437.50 223.90,436.50 C226.38,435.50 228.25,434.08 229.80,432.50 C231.35,430.92 232.33,428.83 233.20,427.00 C234.07,425.17 234.40,423.32 235.00,421.50 C235.60,419.68 236.20,417.92 236.80,416.10 C237.40,414.28 238.00,412.72 238.60,410.60 C239.20,408.48 239.80,406.12 240.40,403.40 C241.00,400.68 241.60,397.03 242.20,394.30 C242.80,391.57 243.40,389.42 244.00,387.00 C244.60,384.58 245.35,381.92 245.80,379.80 C246.25,377.68 246.23,376.42 246.70,374.30 C247.17,372.18 248.05,368.92 248.60,367.10 C249.15,365.28 249.55,364.17 250.00,363.40 C250.45,362.63 251.08,362.65 251.30,362.50" fill="none" stroke="#b8b8b8" stroke-width="0.85" stroke-linejoin="round"/>
</g>
<line x1="209.1" y1="363.1" x2="209.1" y2="439.7" stroke="#d6d6d6" stroke-width="1.3"/>
<line x1="209.1" y1="363.1" x2="292.4" y2="363.1" stroke="#cdcdcd" stroke-width="1.1"/>
<line x1="292.4" y1="362.6" x2="292.4" y2="439.7" stroke="#a2a2a2" stroke-width="1.1"/>
<line x1="208.6" y1="439.7" x2="292.9" y2="439.7" stroke="#959595" stroke-width="1.1"/>
<path d="M215.4,440.2v1.1M219.0,440.2v1.1M221.6,440.2v1.1M223.7,440.2v1.1M225.3,440.2v1.1M226.7,440.2v1.1M227.9,440.2v1.1M229.0,440.2v1.1M229.9,440.2v1.6M236.2,440.2v1.1M239.9,440.2v1.1M242.5,440.2v1.1M244.5,440.2v1.1M246.1,440.2v1.1M247.5,440.2v1.1M248.7,440.2v1.1M249.8,440.2v1.1M250.8,440.2v1.6M257.0,440.2v1.1M260.7,440.2v1.1M263.3,440.2v1.1M265.3,440.2v1.1M267.0,440.2v1.1M268.3,440.2v1.1M269.6,440.2v1.1M270.6,440.2v1.1M271.6,440.2v1.6M277.8,440.2v1.1M281.5,440.2v1.1M284.1,440.2v1.1M286.1,440.2v1.1M287.8,440.2v1.1M289.2,440.2v1.1M290.4,440.2v1.1M291.4,440.2v1.1" stroke="#b0b0b0" stroke-width="0.6" fill="none"/>
<text x="227.8" y="446.3" class="tk">10<tspan dy="-2.4" dx="0.2" font-size="3.9">0</tspan></text>
<text x="247.7" y="446.3" class="tk">10<tspan dy="-2.4" dx="0.2" font-size="3.9">1</tspan></text>
<text x="267.9" y="446.3" class="tk">10<tspan dy="-2.4" dx="0.2" font-size="3.9">2</tspan></text>
<text x="281.9" y="446.3" class="tk">10<tspan dy="-2.4" dx="0.2" font-size="3.9">3</tspan></text>
<clipPath id="k54"><rect x="300.6" y="363.3" width="83.1" height="77.1"/></clipPath>
<g clip-path="url(#k54)">
<path d="M300.80,441.40 L300.80,428.00 C301.12,426.40 301.95,422.35 302.70,418.40 C303.45,414.45 304.42,409.02 305.30,404.30 C306.18,399.58 307.12,394.83 308.00,390.10 C308.88,385.37 309.85,379.75 310.60,375.90 C311.35,372.05 312.05,369.07 312.50,367.00 C312.95,364.93 312.93,363.75 313.30,363.50 C313.67,363.25 314.32,364.60 314.70,365.50 C315.08,366.40 315.15,366.27 315.60,368.90 C316.05,371.53 316.80,376.88 317.40,381.30 C318.00,385.72 318.60,390.98 319.20,395.40 C319.80,399.82 320.42,404.25 321.00,407.80 C321.58,411.35 321.97,413.75 322.70,416.70 C323.43,419.65 324.52,423.03 325.40,425.50 C326.28,427.97 326.97,429.62 328.00,431.50 C329.03,433.38 330.27,435.50 331.60,436.80 C332.93,438.10 334.43,438.70 336.00,439.30 C337.57,439.90 340.17,440.22 341.00,440.40 L341.00,441.40 Z" fill="#838383" stroke="#555555" stroke-width="1.15" stroke-linejoin="round"/>
<path d="M300.80,441.40 L300.80,428.00 C301.12,426.40 301.95,422.35 302.70,418.40 C303.45,414.45 304.42,409.02 305.30,404.30 C306.18,399.58 307.12,394.83 308.00,390.10 C308.88,385.37 309.85,379.75 310.60,375.90 C311.35,372.05 312.05,369.07 312.50,367.00 C312.95,364.93 313.02,363.75 313.30,363.50 C313.58,363.25 313.92,364.60 314.20,365.50 C314.48,366.40 314.57,366.27 315.00,368.90 C315.43,371.53 316.20,376.88 316.80,381.30 C317.40,385.72 318.00,390.98 318.60,395.40 C319.20,399.82 319.82,404.25 320.40,407.80 C320.98,411.35 321.37,413.75 322.10,416.70 C322.83,419.65 323.92,423.03 324.80,425.50 C325.68,427.97 326.37,429.62 327.40,431.50 C328.43,433.38 329.67,435.50 331.00,436.80 C332.33,438.10 333.90,438.70 335.40,439.30 C336.90,439.90 339.23,440.22 340.00,440.40 L340.00,441.40 Z" fill="#fff" stroke="none"/>
<path d="M300.80,428.00 C301.12,426.40 301.95,422.35 302.70,418.40 C303.45,414.45 304.42,409.02 305.30,404.30 C306.18,399.58 307.12,394.83 308.00,390.10 C308.88,385.37 309.85,379.75 310.60,375.90 C311.35,372.05 312.05,369.07 312.50,367.00 C312.95,364.93 313.02,363.75 313.30,363.50 C313.58,363.25 313.92,364.60 314.20,365.50 C314.48,366.40 314.57,366.27 315.00,368.90 C315.43,371.53 316.20,376.88 316.80,381.30 C317.40,385.72 318.00,390.98 318.60,395.40 C319.20,399.82 319.82,404.25 320.40,407.80 C320.98,411.35 321.37,413.75 322.10,416.70 C322.83,419.65 323.92,423.03 324.80,425.50 C325.68,427.97 326.37,429.62 327.40,431.50 C328.43,433.38 329.67,435.50 331.00,436.80 C332.33,438.10 333.90,438.70 335.40,439.30 C336.90,439.90 339.23,440.22 340.00,440.40" fill="none" stroke="#bdbdbd" stroke-width="0.9" stroke-linejoin="round"/>
<path d="M300.80,428.00 C301.12,426.40 301.95,422.35 302.70,418.40 C303.45,414.45 304.42,409.02 305.30,404.30 C306.18,399.58 307.12,394.83 308.00,390.10 C308.88,385.37 309.85,379.75 310.60,375.90 C311.35,372.05 312.05,369.07 312.50,367.00 C312.95,364.93 313.17,364.08 313.30,363.50" fill="none" stroke="#9a9a9a" stroke-width="0.85" stroke-linejoin="round"/>
</g>
<line x1="300.6" y1="363.3" x2="300.6" y2="440.4" stroke="#d6d6d6" stroke-width="1.3"/>
<line x1="300.6" y1="363.3" x2="383.7" y2="363.3" stroke="#cdcdcd" stroke-width="1.1"/>
<line x1="383.7" y1="362.8" x2="383.7" y2="440.4" stroke="#a2a2a2" stroke-width="1.1"/>
<line x1="300.1" y1="440.4" x2="384.2" y2="440.4" stroke="#959595" stroke-width="1.1"/>
<path d="M306.9,440.9v1.1M310.5,440.9v1.1M313.1,440.9v1.1M315.1,440.9v1.1M316.8,440.9v1.1M318.2,440.9v1.1M319.4,440.9v1.1M320.4,440.9v1.1M321.4,440.9v1.6M327.6,440.9v1.1M331.3,440.9v1.1M333.9,440.9v1.1M335.9,440.9v1.1M337.5,440.9v1.1M338.9,440.9v1.1M340.1,440.9v1.1M341.2,440.9v1.1M342.1,440.9v1.6M348.4,440.9v1.1M352.1,440.9v1.1M354.7,440.9v1.1M356.7,440.9v1.1M358.3,440.9v1.1M359.7,440.9v1.1M360.9,440.9v1.1M362.0,440.9v1.1M362.9,440.9v1.6M369.2,440.9v1.1M372.8,440.9v1.1M375.4,440.9v1.1M377.4,440.9v1.1M379.1,440.9v1.1M380.5,440.9v1.1M381.7,440.9v1.1M382.7,440.9v1.1" stroke="#b0b0b0" stroke-width="0.6" fill="none"/>
<text x="319.3" y="447.0" class="tk">10<tspan dy="-2.4" dx="0.2" font-size="3.9">0</tspan></text>
<text x="339.2" y="447.0" class="tk">10<tspan dy="-2.4" dx="0.2" font-size="3.9">1</tspan></text>
<text x="359.4" y="447.0" class="tk">10<tspan dy="-2.4" dx="0.2" font-size="3.9">2</tspan></text>
<text x="373.2" y="447.0" class="tk">10<tspan dy="-2.4" dx="0.2" font-size="3.9">3</tspan></text>
<clipPath id="k55"><rect x="394.0" y="364.3" width="83.4" height="76.6"/></clipPath>
<g clip-path="url(#k55)">
<path d="M395.00,441.90 L395.00,440.90 C395.20,440.05 395.12,439.35 396.20,435.80 C397.28,432.25 399.93,426.33 401.50,419.60 C403.07,412.87 404.43,404.00 405.60,395.40 C406.77,386.80 407.80,373.15 408.50,368.00 C409.20,362.85 409.42,365.12 409.80,364.50 C410.18,363.88 410.50,364.13 410.80,364.30 C411.10,364.47 411.28,364.70 411.60,365.50 C411.92,366.30 412.22,367.00 412.70,369.10 C413.18,371.20 413.88,374.47 414.50,378.10 C415.12,381.73 415.78,386.65 416.40,390.90 C417.02,395.15 417.60,399.68 418.20,403.60 C418.80,407.52 419.40,411.08 420.00,414.40 C420.60,417.72 421.05,420.62 421.80,423.50 C422.55,426.38 423.58,429.43 424.50,431.70 C425.42,433.97 426.23,435.73 427.30,437.10 C428.37,438.47 429.78,439.27 430.90,439.90 C432.02,440.53 433.48,440.73 434.00,440.90 L434.00,441.90 Z" fill="#838383" stroke="#555555" stroke-width="1.15" stroke-linejoin="round"/>
<path d="M394.20,441.90 L394.20,440.50 C394.30,440.17 394.03,441.53 394.80,438.50 C395.57,435.47 397.45,429.48 398.80,422.30 C400.15,415.12 401.55,403.92 402.90,395.40 C404.25,386.88 406.00,376.13 406.90,371.20 C407.80,366.27 407.95,366.92 408.30,365.80 C408.65,364.68 408.95,364.13 409.00,364.50 C409.05,364.87 408.70,366.93 408.60,368.00 C408.50,369.07 408.32,369.22 408.40,370.90 C408.48,372.58 408.75,374.77 409.10,378.10 C409.45,381.43 409.95,386.65 410.50,390.90 C411.05,395.15 411.73,399.37 412.40,403.60 C413.07,407.83 413.68,412.37 414.50,416.30 C415.32,420.23 416.38,424.18 417.30,427.20 C418.22,430.22 418.95,432.35 420.00,434.40 C421.05,436.45 422.60,438.42 423.60,439.50 C424.60,440.58 425.60,440.67 426.00,440.90 L426.00,441.90 Z" fill="#fff" stroke="none"/>
<path d="M394.20,440.50 C394.30,440.17 394.03,441.53 394.80,438.50 C395.57,435.47 397.45,429.48 398.80,422.30 C400.15,415.12 401.55,403.92 402.90,395.40 C404.25,386.88 406.00,376.13 406.90,371.20 C407.80,366.27 407.95,366.92 408.30,365.80 C408.65,364.68 408.95,364.13 409.00,364.50 C409.05,364.87 408.70,366.93 408.60,368.00 C408.50,369.07 408.32,369.22 408.40,370.90 C408.48,372.58 408.75,374.77 409.10,378.10 C409.45,381.43 409.95,386.65 410.50,390.90 C411.05,395.15 411.73,399.37 412.40,403.60 C413.07,407.83 413.68,412.37 414.50,416.30 C415.32,420.23 416.38,424.18 417.30,427.20 C418.22,430.22 418.95,432.35 420.00,434.40 C421.05,436.45 422.60,438.42 423.60,439.50 C424.60,440.58 425.60,440.67 426.00,440.90" fill="none" stroke="#bdbdbd" stroke-width="0.9" stroke-linejoin="round"/>
<path d="M395.00,440.90 C395.20,440.05 395.12,439.35 396.20,435.80 C397.28,432.25 399.93,426.33 401.50,419.60 C403.07,412.87 404.43,404.00 405.60,395.40 C406.77,386.80 407.80,373.15 408.50,368.00 C409.20,362.85 409.42,365.12 409.80,364.50 C410.18,363.88 410.63,364.33 410.80,364.30" fill="none" stroke="#b8b8b8" stroke-width="0.85" stroke-linejoin="round"/>
</g>
<line x1="394.0" y1="364.3" x2="394.0" y2="440.9" stroke="#d6d6d6" stroke-width="1.3"/>
<line x1="394.0" y1="364.3" x2="477.4" y2="364.3" stroke="#cdcdcd" stroke-width="1.1"/>
<line x1="477.4" y1="363.8" x2="477.4" y2="440.9" stroke="#a2a2a2" stroke-width="1.1"/>
<line x1="393.5" y1="440.9" x2="477.9" y2="440.9" stroke="#959595" stroke-width="1.1"/>
<path d="M400.3,441.4v1.1M403.9,441.4v1.1M406.6,441.4v1.1M408.6,441.4v1.1M410.2,441.4v1.1M411.6,441.4v1.1M412.8,441.4v1.1M413.9,441.4v1.1M414.9,441.4v1.6M421.1,441.4v1.1M424.8,441.4v1.1M427.4,441.4v1.1M429.4,441.4v1.1M431.1,441.4v1.1M432.5,441.4v1.1M433.7,441.4v1.1M434.7,441.4v1.1M435.7,441.4v1.6M442.0,441.4v1.1M445.6,441.4v1.1M448.3,441.4v1.1M450.3,441.4v1.1M451.9,441.4v1.1M453.3,441.4v1.1M454.5,441.4v1.1M455.6,441.4v1.1M456.5,441.4v1.6M462.8,441.4v1.1M466.5,441.4v1.1M469.1,441.4v1.1M471.1,441.4v1.1M472.8,441.4v1.1M474.2,441.4v1.1M475.4,441.4v1.1M476.4,441.4v1.1" stroke="#b0b0b0" stroke-width="0.6" fill="none"/>
<text x="412.7" y="447.5" class="tk">10<tspan dy="-2.4" dx="0.2" font-size="3.9">0</tspan></text>
<text x="432.6" y="447.5" class="tk">10<tspan dy="-2.4" dx="0.2" font-size="3.9">1</tspan></text>
<text x="452.8" y="447.5" class="tk">10<tspan dy="-2.4" dx="0.2" font-size="3.9">2</tspan></text>
<text x="466.9" y="447.5" class="tk">10<tspan dy="-2.4" dx="0.2" font-size="3.9">3</tspan></text>
<text x="19.2" y="459.6" class="lb" textLength="87.4" lengthAdjust="spacingAndGlyphs">Glycophorin-A</text>
<text x="126.9" y="460.6" class="lb" textLength="56.4" lengthAdjust="spacingAndGlyphs">TRAIL-R1</text>
<text x="219.6" y="461.8" class="lb" textLength="57.3" lengthAdjust="spacingAndGlyphs">TRAIL-R2</text>
<text x="311.3" y="462.4" class="lb" textLength="57.0" lengthAdjust="spacingAndGlyphs">TRAIL-R3</text>
<text x="406.9" y="462.2" class="lb" textLength="56.7" lengthAdjust="spacingAndGlyphs">TRAIL-R4</text>
<text x="486.3" y="51.3" class="tl" textLength="25.3" lengthAdjust="spacingAndGlyphs">T=0</text>
<text x="487.6" y="141.9" class="tl" textLength="24.7" lengthAdjust="spacingAndGlyphs">T=3</text>
<text x="487.4" y="223.9" class="tl" textLength="32.3" lengthAdjust="spacingAndGlyphs">T=10</text>
<text x="486.8" y="317.7" class="tl" textLength="32.5" lengthAdjust="spacingAndGlyphs">T=13</text>
<text x="486.8" y="405.9" class="tl" textLength="32.5" lengthAdjust="spacingAndGlyphs">T=18</text>
<text transform="translate(10.2,280.4) rotate(-90)" class="lb" x="0" y="0" textLength="123.2" lengthAdjust="spacingAndGlyphs">Relative cell number</text>
</svg>
</body></html>
